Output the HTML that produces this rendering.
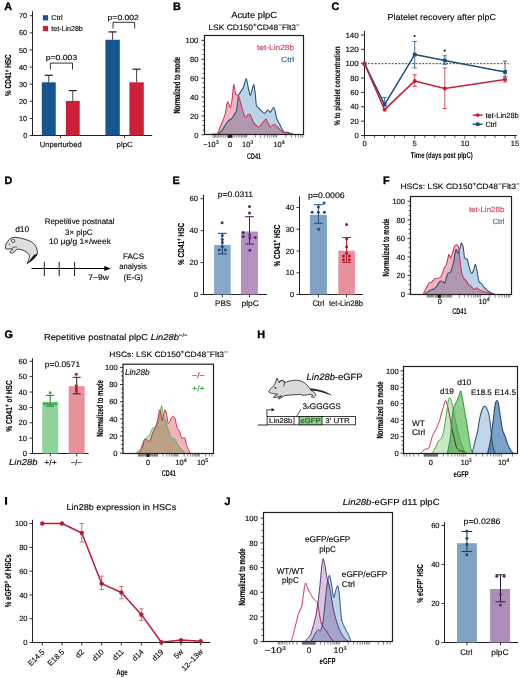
<!DOCTYPE html>
<html><head><meta charset="utf-8"><style>
html,body{margin:0;padding:0;background:#fff;}
svg{display:block;font-family:"Liberation Sans",sans-serif;text-rendering:geometricPrecision;}
</style></head><body>
<svg width="520" height="678" viewBox="0 0 520 678">
<rect width="520" height="678" fill="#fff"/>
<text x="4.20" y="9.80" font-size="10.8" fill="#000" font-weight="bold" stroke="#000" stroke-width="0.35">A</text>
<line x1="32.50" y1="11.20" x2="32.50" y2="135.95" stroke="#231f20" stroke-width="1.0" />
<line x1="32.00" y1="135.50" x2="152.20" y2="135.50" stroke="#231f20" stroke-width="1.0" />
<line x1="29.60" y1="135.50" x2="32.50" y2="135.50" stroke="#231f20" stroke-width="0.9" />
<text x="27.20" y="138.10" font-size="7.3" stroke="#231f20" stroke-width="0.15" text-anchor="end" >0</text>
<line x1="29.60" y1="118.39" x2="32.50" y2="118.39" stroke="#231f20" stroke-width="0.9" />
<text x="27.20" y="120.99" font-size="7.3" stroke="#231f20" stroke-width="0.15" text-anchor="end" >10</text>
<line x1="29.60" y1="101.28" x2="32.50" y2="101.28" stroke="#231f20" stroke-width="0.9" />
<text x="27.20" y="103.88" font-size="7.3" stroke="#231f20" stroke-width="0.15" text-anchor="end" >20</text>
<line x1="29.60" y1="84.17" x2="32.50" y2="84.17" stroke="#231f20" stroke-width="0.9" />
<text x="27.20" y="86.77" font-size="7.3" stroke="#231f20" stroke-width="0.15" text-anchor="end" >30</text>
<line x1="29.60" y1="67.06" x2="32.50" y2="67.06" stroke="#231f20" stroke-width="0.9" />
<text x="27.20" y="69.66" font-size="7.3" stroke="#231f20" stroke-width="0.15" text-anchor="end" >40</text>
<line x1="29.60" y1="49.95" x2="32.50" y2="49.95" stroke="#231f20" stroke-width="0.9" />
<text x="27.20" y="52.55" font-size="7.3" stroke="#231f20" stroke-width="0.15" text-anchor="end" >50</text>
<line x1="29.60" y1="32.84" x2="32.50" y2="32.84" stroke="#231f20" stroke-width="0.9" />
<text x="27.20" y="35.44" font-size="7.3" stroke="#231f20" stroke-width="0.15" text-anchor="end" >60</text>
<line x1="29.60" y1="15.73" x2="32.50" y2="15.73" stroke="#231f20" stroke-width="0.9" />
<text x="27.20" y="18.33" font-size="7.3" stroke="#231f20" stroke-width="0.15" text-anchor="end" >70</text>
<line x1="60.60" y1="135.50" x2="60.60" y2="138.20" stroke="#231f20" stroke-width="0.9" />
<line x1="124.50" y1="135.50" x2="124.50" y2="138.20" stroke="#231f20" stroke-width="0.9" />
<rect x="41.80" y="82.30" width="13.95" height="53.20" fill="#155590" />
<line x1="48.77" y1="82.30" x2="48.77" y2="75.30" stroke="#2b2b30" stroke-width="0.9" />
<line x1="44.77" y1="75.30" x2="52.77" y2="75.30" stroke="#2b2b30" stroke-width="1.3" />
<rect x="65.85" y="100.90" width="13.85" height="34.60" fill="#cc1f38" />
<line x1="72.78" y1="100.90" x2="72.78" y2="90.60" stroke="#2b2b30" stroke-width="0.9" />
<line x1="68.78" y1="90.60" x2="76.78" y2="90.60" stroke="#2b2b30" stroke-width="1.3" />
<rect x="105.40" y="39.80" width="14.40" height="95.70" fill="#155590" />
<line x1="112.60" y1="39.80" x2="112.60" y2="31.90" stroke="#2b2b30" stroke-width="0.9" />
<line x1="108.60" y1="31.90" x2="116.60" y2="31.90" stroke="#2b2b30" stroke-width="1.3" />
<rect x="129.40" y="82.30" width="14.40" height="53.20" fill="#cc1f38" />
<line x1="136.60" y1="82.30" x2="136.60" y2="69.20" stroke="#2b2b30" stroke-width="0.9" />
<line x1="132.60" y1="69.20" x2="140.60" y2="69.20" stroke="#2b2b30" stroke-width="1.3" />
<rect x="42.90" y="15.20" width="5.20" height="5.20" fill="#155590" />
<text x="51.30" y="20.20" font-size="7.2" stroke="#231f20" stroke-width="0.15" textLength="11.30" lengthAdjust="spacingAndGlyphs" >Ctrl</text>
<rect x="42.90" y="25.90" width="5.20" height="5.20" fill="#cc1f38" />
<text x="51.30" y="30.80" font-size="7.2" stroke="#231f20" stroke-width="0.15" textLength="31.50" lengthAdjust="spacingAndGlyphs" >tet-Lin28b</text>
<text x="45.80" y="59.80" font-size="7.4" stroke="#231f20" stroke-width="0.15" textLength="31.40" lengthAdjust="spacingAndGlyphs" >p=0.003</text>
<path d="M50.4,69.4 V63.1 H72.5 V69.4" fill="none" stroke="#231f20" stroke-width="0.9" />
<text x="107.60" y="19.60" font-size="7.4" stroke="#231f20" stroke-width="0.15" textLength="31.30" lengthAdjust="spacingAndGlyphs" >p=0.002</text>
<path d="M113,28.4 V22.3 H134.7 V28.4" fill="none" stroke="#231f20" stroke-width="0.9" />
<text x="39.80" y="146.70" font-size="7.6" stroke="#231f20" stroke-width="0.15" textLength="41.90" lengthAdjust="spacingAndGlyphs" >Unperturbed</text>
<text x="116.50" y="146.70" font-size="7.6" stroke="#231f20" stroke-width="0.15" textLength="16.20" lengthAdjust="spacingAndGlyphs" >plpC</text>
<text x="11.40" y="75.10" font-size="8.64" text-anchor="middle" textLength="41.60" lengthAdjust="spacingAndGlyphs" font-weight="bold" transform="rotate(-90 11.40 75.10)" stroke="#231f20" stroke-width="0.15">% CD41<tspan font-size="6.2" dy="-2.8">+</tspan><tspan dy="2.8"> HSC</tspan></text>
<text x="173.00" y="9.60" font-size="10.8" fill="#000" font-weight="bold" stroke="#000" stroke-width="0.35">B</text>
<text x="231.20" y="17.50" font-size="8.9" stroke="#231f20" stroke-width="0.15" textLength="45.80" lengthAdjust="spacingAndGlyphs" >Acute plpC</text>
<text x="208.40" y="30.40" font-size="7.8" stroke="#231f20" stroke-width="0.15" textLength="91.30" lengthAdjust="spacingAndGlyphs" >LSK CD150<tspan font-size="5.8" dy="-3.1">+</tspan><tspan dy="3.1">CD48</tspan><tspan font-size="5.8" dy="-3.1">−</tspan><tspan dy="3.1">Flt3</tspan><tspan font-size="5.8" dy="-3.1">−</tspan></text>
<path d="M218.00,134.50 C218.49,134.02 221.35,131.51 222.20,130.40 C223.05,129.29 224.58,126.12 225.30,125.00 C226.02,123.88 227.59,121.61 228.40,120.80 C229.21,119.99 231.49,118.87 232.20,118.10 C232.91,117.33 234.00,115.10 234.50,114.20 C235.00,113.30 236.14,111.74 236.50,110.40 C236.86,109.06 237.37,104.42 237.60,102.70 C237.83,100.98 238.12,97.03 238.50,95.70 C238.88,94.37 240.34,92.26 240.90,91.30 C241.46,90.34 242.67,88.97 243.30,87.50 C243.93,86.03 245.68,78.48 246.30,78.70 C246.92,78.92 248.11,87.48 248.60,89.40 C249.09,91.33 249.91,95.76 250.50,95.20 C251.09,94.64 253.14,84.72 253.70,84.60 C254.26,84.48 254.99,91.75 255.30,94.20 C255.62,96.65 256.04,104.05 256.40,105.60 C256.76,107.15 257.89,106.94 258.40,107.50 C258.91,108.06 260.13,109.72 260.80,110.40 C261.47,111.08 263.48,113.14 264.10,113.30 C264.72,113.46 265.65,112.20 266.10,111.80 C266.56,111.40 267.50,109.84 268.00,109.90 C268.50,109.96 269.75,112.60 270.40,112.30 C271.05,112.00 273.04,107.42 273.60,107.30 C274.16,107.18 274.85,110.04 275.20,111.30 C275.55,112.56 276.16,116.75 276.60,118.10 C277.04,119.45 278.44,121.78 279.00,122.90 C279.56,124.02 280.84,126.64 281.40,127.70 C281.96,128.76 283.06,131.46 283.80,132.00 C284.54,132.54 286.91,132.12 287.70,132.30 C288.49,132.48 289.92,133.27 290.60,133.50 C291.28,133.73 293.16,134.21 293.50,134.30 Z" fill="#b9d4e6" stroke="none" stroke-width="0.8" style="mix-blend-mode:multiply"/>
<path d="M210.70,134.50 C210.70,134.49 210.31,134.46 210.70,134.40 C211.08,134.34 213.19,134.09 214.00,134.00 C214.81,133.91 216.82,134.56 217.60,133.60 C218.38,132.64 220.07,127.34 220.70,125.80 C221.33,124.26 222.46,121.84 223.00,120.40 C223.54,118.97 224.86,115.30 225.30,113.50 C225.74,111.70 226.49,106.35 226.80,105.00 C227.12,103.65 227.59,101.64 228.00,101.90 C228.41,102.16 229.81,107.56 230.30,107.20 C230.79,106.84 231.80,101.44 232.20,98.80 C232.60,96.16 233.30,85.14 233.70,84.60 C234.10,84.06 235.22,93.02 235.60,94.20 C235.98,95.38 236.66,94.53 237.00,94.70 C237.34,94.88 238.04,94.64 238.50,95.70 C238.96,96.76 240.24,101.50 240.90,103.80 C241.56,106.10 243.64,113.83 244.20,115.40 C244.76,116.98 245.24,117.42 245.70,117.30 C246.16,117.18 247.54,114.62 248.10,114.40 C248.66,114.18 249.84,114.39 250.50,115.40 C251.16,116.42 252.84,121.76 253.80,123.10 C254.76,124.44 257.74,126.85 258.70,126.90 C259.66,126.95 261.14,124.42 262.00,123.50 C262.86,122.58 265.40,119.07 266.10,119.00 C266.80,118.93 267.50,122.00 268.00,122.90 C268.50,123.80 269.68,126.54 270.40,126.70 C271.12,126.86 273.52,124.41 274.20,124.30 C274.88,124.19 275.52,125.18 276.20,125.80 C276.88,126.42 279.22,128.88 280.00,129.60 C280.78,130.32 282.12,131.60 282.90,132.00 C283.68,132.40 285.70,132.73 286.70,133.00 C287.70,133.27 290.94,134.12 291.50,134.30 C292.06,134.48 291.50,134.48 291.50,134.50 Z" fill="#f0b6c2" stroke="none" stroke-width="0.8" style="mix-blend-mode:multiply"/>
<path d="M218.00,134.50 C218.49,134.02 221.35,131.51 222.20,130.40 C223.05,129.29 224.58,126.12 225.30,125.00 C226.02,123.88 227.59,121.61 228.40,120.80 C229.21,119.99 231.49,118.87 232.20,118.10 C232.91,117.33 234.00,115.10 234.50,114.20 C235.00,113.30 236.14,111.74 236.50,110.40 C236.86,109.06 237.37,104.42 237.60,102.70 C237.83,100.98 238.12,97.03 238.50,95.70 C238.88,94.37 240.34,92.26 240.90,91.30 C241.46,90.34 242.67,88.97 243.30,87.50 C243.93,86.03 245.68,78.48 246.30,78.70 C246.92,78.92 248.11,87.48 248.60,89.40 C249.09,91.33 249.91,95.76 250.50,95.20 C251.09,94.64 253.14,84.72 253.70,84.60 C254.26,84.48 254.99,91.75 255.30,94.20 C255.62,96.65 256.04,104.05 256.40,105.60 C256.76,107.15 257.89,106.94 258.40,107.50 C258.91,108.06 260.13,109.72 260.80,110.40 C261.47,111.08 263.48,113.14 264.10,113.30 C264.72,113.46 265.65,112.20 266.10,111.80 C266.56,111.40 267.50,109.84 268.00,109.90 C268.50,109.96 269.75,112.60 270.40,112.30 C271.05,112.00 273.04,107.42 273.60,107.30 C274.16,107.18 274.85,110.04 275.20,111.30 C275.55,112.56 276.16,116.75 276.60,118.10 C277.04,119.45 278.44,121.78 279.00,122.90 C279.56,124.02 280.84,126.64 281.40,127.70 C281.96,128.76 283.06,131.46 283.80,132.00 C284.54,132.54 286.91,132.12 287.70,132.30 C288.49,132.48 289.92,133.27 290.60,133.50 C291.28,133.73 293.16,134.21 293.50,134.30" fill="none" stroke="#2b4f76" stroke-width="1.05" stroke-linejoin="round"/>
<path d="M210.70,134.50 C210.70,134.49 210.31,134.46 210.70,134.40 C211.08,134.34 213.19,134.09 214.00,134.00 C214.81,133.91 216.82,134.56 217.60,133.60 C218.38,132.64 220.07,127.34 220.70,125.80 C221.33,124.26 222.46,121.84 223.00,120.40 C223.54,118.97 224.86,115.30 225.30,113.50 C225.74,111.70 226.49,106.35 226.80,105.00 C227.12,103.65 227.59,101.64 228.00,101.90 C228.41,102.16 229.81,107.56 230.30,107.20 C230.79,106.84 231.80,101.44 232.20,98.80 C232.60,96.16 233.30,85.14 233.70,84.60 C234.10,84.06 235.22,93.02 235.60,94.20 C235.98,95.38 236.66,94.53 237.00,94.70 C237.34,94.88 238.04,94.64 238.50,95.70 C238.96,96.76 240.24,101.50 240.90,103.80 C241.56,106.10 243.64,113.83 244.20,115.40 C244.76,116.98 245.24,117.42 245.70,117.30 C246.16,117.18 247.54,114.62 248.10,114.40 C248.66,114.18 249.84,114.39 250.50,115.40 C251.16,116.42 252.84,121.76 253.80,123.10 C254.76,124.44 257.74,126.85 258.70,126.90 C259.66,126.95 261.14,124.42 262.00,123.50 C262.86,122.58 265.40,119.07 266.10,119.00 C266.80,118.93 267.50,122.00 268.00,122.90 C268.50,123.80 269.68,126.54 270.40,126.70 C271.12,126.86 273.52,124.41 274.20,124.30 C274.88,124.19 275.52,125.18 276.20,125.80 C276.88,126.42 279.22,128.88 280.00,129.60 C280.78,130.32 282.12,131.60 282.90,132.00 C283.68,132.40 285.70,132.73 286.70,133.00 C287.70,133.27 290.94,134.12 291.50,134.30 C292.06,134.48 291.50,134.48 291.50,134.50" fill="none" stroke="#c83a5a" stroke-width="1.05" stroke-linejoin="round"/>
<rect x="204.50" y="35.50" width="99.00" height="99.00" fill="none" stroke="#231f20" stroke-width="1.2"/>
<path d="M202.60,130.08H204.50M202.60,125.36H204.50M202.60,120.64H204.50M202.60,111.20H204.50M202.60,106.48H204.50M202.60,101.76H204.50M202.60,92.32H204.50M202.60,87.60H204.50M202.60,82.88H204.50M202.60,73.44H204.50M202.60,68.72H204.50M202.60,64.00H204.50M202.60,54.56H204.50M202.60,49.84H204.50M202.60,45.12H204.50" fill="none" stroke="#231f20" stroke-width="0.8" />
<line x1="201.50" y1="134.80" x2="204.50" y2="134.80" stroke="#231f20" stroke-width="0.9" />
<text x="198.40" y="137.50" font-size="7.6" stroke="#231f20" stroke-width="0.15" text-anchor="end" >0</text>
<line x1="201.50" y1="115.92" x2="204.50" y2="115.92" stroke="#231f20" stroke-width="0.9" />
<text x="198.40" y="118.62" font-size="7.6" stroke="#231f20" stroke-width="0.15" text-anchor="end" >20</text>
<line x1="201.50" y1="97.04" x2="204.50" y2="97.04" stroke="#231f20" stroke-width="0.9" />
<text x="198.40" y="99.74" font-size="7.6" stroke="#231f20" stroke-width="0.15" text-anchor="end" >40</text>
<line x1="201.50" y1="78.16" x2="204.50" y2="78.16" stroke="#231f20" stroke-width="0.9" />
<text x="198.40" y="80.86" font-size="7.6" stroke="#231f20" stroke-width="0.15" text-anchor="end" >60</text>
<line x1="201.50" y1="59.28" x2="204.50" y2="59.28" stroke="#231f20" stroke-width="0.9" />
<text x="198.40" y="61.98" font-size="7.6" stroke="#231f20" stroke-width="0.15" text-anchor="end" >80</text>
<line x1="201.50" y1="40.40" x2="204.50" y2="40.40" stroke="#231f20" stroke-width="0.9" />
<text x="198.40" y="43.10" font-size="7.6" stroke="#231f20" stroke-width="0.15" text-anchor="end" textLength="13.00" lengthAdjust="spacingAndGlyphs" >100</text>
<path d="M230.22,135.00v2.6 M229.78,135.00v2.6 M230.43,135.00v2.6 M229.57,135.00v2.6 M230.65,135.00v2.6 M229.35,135.00v2.6 M230.86,135.00v2.6 M229.14,135.00v2.6 M231.07,135.00v2.6 M228.93,135.00v2.6 M231.29,135.00v2.6 M228.71,135.00v2.6 M231.50,135.00v2.6 M228.50,135.00v2.6 M231.72,135.00v2.6 M228.28,135.00v2.6 M231.93,135.00v2.6 M228.07,135.00v2.6 M232.14,135.00v2.6 M227.86,135.00v2.6 M234.23,135.00v2.6 M225.77,135.00v2.6 M236.23,135.00v2.6 M223.77,135.00v2.6 M238.11,135.00v2.6 M221.89,135.00v2.6 M239.85,135.00v2.6 M220.15,135.00v2.6 M241.47,135.00v2.6 M218.53,135.00v2.6 M242.96,135.00v2.6 M217.04,135.00v2.6 M244.34,135.00v2.6 M215.66,135.00v2.6 M245.62,135.00v2.6 M214.38,135.00v2.6 M246.80,135.00v2.6 M213.20,135.00v2.6 M255.29,135.00v2.6 M260.58,135.00v2.6 M264.39,135.00v2.6 M267.36,135.00v2.6 M269.80,135.00v2.6 M271.87,135.00v2.6 M273.66,135.00v2.6 M275.24,135.00v2.6 M276.65,135.00v2.6 M285.98,135.00v2.6 M291.43,135.00v2.6 M295.31,135.00v2.6 M298.31,135.00v2.6 M300.76,135.00v2.6 M302.84,135.00v2.6 M230.00,135.00v2.6" fill="none" stroke="#231f20" stroke-width="0.55" />
<text x="256.90" y="49.50" font-size="7.6" stroke="#d0445f" stroke-width="0.15" fill="#d0445f" textLength="37.30" lengthAdjust="spacingAndGlyphs" >tet-Lin28b</text>
<text x="281.00" y="61.50" font-size="7.6" stroke="#3a6896" stroke-width="0.15" fill="#3a6896" textLength="13.20" lengthAdjust="spacingAndGlyphs" >Ctrl</text>
<text x="203.20" y="146.90" font-size="7.4" stroke="#231f20" stroke-width="0.15" >−10<tspan font-size="5.4" dy="-3">3</tspan></text>
<text x="230.00" y="146.90" font-size="7.4" stroke="#231f20" stroke-width="0.15" text-anchor="middle" >0</text>
<text x="242.10" y="146.90" font-size="7.4" stroke="#231f20" stroke-width="0.15" >10<tspan font-size="5.4" dy="-3">3</tspan></text>
<text x="273.40" y="146.90" font-size="7.4" stroke="#231f20" stroke-width="0.15" >10<tspan font-size="5.4" dy="-3">4</tspan></text>
<text x="254.00" y="159.10" font-size="8.4" text-anchor="middle" textLength="13.80" lengthAdjust="spacingAndGlyphs" font-weight="bold" >CD41</text>
<text x="180.50" y="85.20" font-size="9.024" text-anchor="middle" textLength="56.60" lengthAdjust="spacingAndGlyphs" font-weight="bold" transform="rotate(-90 180.50 85.20)" stroke="#231f20" stroke-width="0.15">Normalized to mode</text>
<text x="331.50" y="10.00" font-size="10.8" fill="#000" font-weight="bold" stroke="#000" stroke-width="0.35">C</text>
<text x="387.60" y="19.90" font-size="8.6" stroke="#231f20" stroke-width="0.15" textLength="108.40" lengthAdjust="spacingAndGlyphs" >Platelet recovery after plpC</text>
<line x1="364.50" y1="30.80" x2="364.50" y2="135.80" stroke="#231f20" stroke-width="1.0" />
<line x1="364.00" y1="135.50" x2="516.80" y2="135.50" stroke="#231f20" stroke-width="1.0" />
<line x1="361.00" y1="135.50" x2="364.50" y2="135.50" stroke="#231f20" stroke-width="0.9" />
<text x="358.80" y="138.20" font-size="7.6" stroke="#231f20" stroke-width="0.15" text-anchor="end" >0</text>
<line x1="361.00" y1="121.13" x2="364.50" y2="121.13" stroke="#231f20" stroke-width="0.9" />
<text x="358.80" y="123.83" font-size="7.6" stroke="#231f20" stroke-width="0.15" text-anchor="end" >20</text>
<line x1="361.00" y1="106.77" x2="364.50" y2="106.77" stroke="#231f20" stroke-width="0.9" />
<text x="358.80" y="109.47" font-size="7.6" stroke="#231f20" stroke-width="0.15" text-anchor="end" >40</text>
<line x1="361.00" y1="92.40" x2="364.50" y2="92.40" stroke="#231f20" stroke-width="0.9" />
<text x="358.80" y="95.10" font-size="7.6" stroke="#231f20" stroke-width="0.15" text-anchor="end" >60</text>
<line x1="361.00" y1="78.04" x2="364.50" y2="78.04" stroke="#231f20" stroke-width="0.9" />
<text x="358.80" y="80.74" font-size="7.6" stroke="#231f20" stroke-width="0.15" text-anchor="end" >80</text>
<line x1="361.00" y1="63.67" x2="364.50" y2="63.67" stroke="#231f20" stroke-width="0.9" />
<text x="358.80" y="66.37" font-size="7.6" stroke="#231f20" stroke-width="0.15" text-anchor="end" textLength="13.40" lengthAdjust="spacingAndGlyphs" >100</text>
<line x1="361.00" y1="49.30" x2="364.50" y2="49.30" stroke="#231f20" stroke-width="0.9" />
<text x="358.80" y="52.00" font-size="7.6" stroke="#231f20" stroke-width="0.15" text-anchor="end" textLength="13.40" lengthAdjust="spacingAndGlyphs" >120</text>
<line x1="361.00" y1="34.94" x2="364.50" y2="34.94" stroke="#231f20" stroke-width="0.9" />
<text x="358.80" y="37.64" font-size="7.6" stroke="#231f20" stroke-width="0.15" text-anchor="end" textLength="13.40" lengthAdjust="spacingAndGlyphs" >140</text>
<line x1="364.50" y1="135.50" x2="364.50" y2="138.70" stroke="#231f20" stroke-width="0.8" />
<line x1="374.54" y1="135.50" x2="374.54" y2="137.70" stroke="#231f20" stroke-width="0.8" />
<line x1="384.58" y1="135.50" x2="384.58" y2="137.70" stroke="#231f20" stroke-width="0.8" />
<line x1="394.62" y1="135.50" x2="394.62" y2="137.70" stroke="#231f20" stroke-width="0.8" />
<line x1="404.66" y1="135.50" x2="404.66" y2="137.70" stroke="#231f20" stroke-width="0.8" />
<line x1="414.70" y1="135.50" x2="414.70" y2="138.70" stroke="#231f20" stroke-width="0.8" />
<line x1="424.74" y1="135.50" x2="424.74" y2="137.70" stroke="#231f20" stroke-width="0.8" />
<line x1="434.78" y1="135.50" x2="434.78" y2="137.70" stroke="#231f20" stroke-width="0.8" />
<line x1="444.82" y1="135.50" x2="444.82" y2="137.70" stroke="#231f20" stroke-width="0.8" />
<line x1="454.86" y1="135.50" x2="454.86" y2="137.70" stroke="#231f20" stroke-width="0.8" />
<line x1="464.90" y1="135.50" x2="464.90" y2="138.70" stroke="#231f20" stroke-width="0.8" />
<line x1="474.94" y1="135.50" x2="474.94" y2="137.70" stroke="#231f20" stroke-width="0.8" />
<line x1="484.98" y1="135.50" x2="484.98" y2="137.70" stroke="#231f20" stroke-width="0.8" />
<line x1="495.02" y1="135.50" x2="495.02" y2="137.70" stroke="#231f20" stroke-width="0.8" />
<line x1="505.06" y1="135.50" x2="505.06" y2="137.70" stroke="#231f20" stroke-width="0.8" />
<line x1="515.10" y1="135.50" x2="515.10" y2="138.70" stroke="#231f20" stroke-width="0.8" />
<text x="364.50" y="145.70" font-size="7.6" stroke="#231f20" stroke-width="0.15" text-anchor="middle" >0</text>
<text x="414.70" y="145.70" font-size="7.6" stroke="#231f20" stroke-width="0.15" text-anchor="middle" >5</text>
<text x="464.90" y="145.70" font-size="7.6" stroke="#231f20" stroke-width="0.15" text-anchor="middle" >10</text>
<text x="515.10" y="145.70" font-size="7.6" stroke="#231f20" stroke-width="0.15" text-anchor="middle" >15</text>
<text x="410.70" y="157.90" font-size="8.4" textLength="62.00" lengthAdjust="spacingAndGlyphs" font-weight="bold" >Time (days post plpC)</text>
<text x="340.20" y="86.00" font-size="8.256" text-anchor="middle" textLength="79.00" lengthAdjust="spacingAndGlyphs" font-weight="bold" transform="rotate(-90 340.20 86.00)" stroke="#231f20" stroke-width="0.15">% to platelet concentration</text>
<line x1="364.50" y1="63.67" x2="508.50" y2="63.67" stroke="#231f20" stroke-width="0.85" stroke-dasharray="1.9 1.5"/>
<polyline points="364.50,63.67 384.58,104.61 414.70,54.55 444.82,60.44 505.06,71.93" fill="none" stroke="#1d4f7c" stroke-width="1.5" stroke-linejoin="round"/>
<rect x="362.60" y="61.77" width="3.80" height="3.80" fill="#1d4f7c" />
<line x1="384.58" y1="97.43" x2="384.58" y2="104.61" stroke="#1d4f7c" stroke-width="0.8" />
<line x1="382.38" y1="97.43" x2="386.78" y2="97.43" stroke="#1d4f7c" stroke-width="0.8" />
<rect x="382.68" y="102.71" width="3.80" height="3.80" fill="#1d4f7c" />
<line x1="414.70" y1="41.40" x2="414.70" y2="54.55" stroke="#1d4f7c" stroke-width="0.8" />
<line x1="412.50" y1="41.40" x2="416.90" y2="41.40" stroke="#1d4f7c" stroke-width="0.8" />
<line x1="414.70" y1="67.98" x2="414.70" y2="54.55" stroke="#1d4f7c" stroke-width="0.8" />
<line x1="412.50" y1="67.98" x2="416.90" y2="67.98" stroke="#1d4f7c" stroke-width="0.8" />
<rect x="412.80" y="52.65" width="3.80" height="3.80" fill="#1d4f7c" />
<line x1="444.82" y1="55.77" x2="444.82" y2="60.44" stroke="#1d4f7c" stroke-width="0.8" />
<line x1="442.62" y1="55.77" x2="447.02" y2="55.77" stroke="#1d4f7c" stroke-width="0.8" />
<line x1="444.82" y1="64.39" x2="444.82" y2="60.44" stroke="#1d4f7c" stroke-width="0.8" />
<line x1="442.62" y1="64.39" x2="447.02" y2="64.39" stroke="#1d4f7c" stroke-width="0.8" />
<rect x="442.92" y="58.54" width="3.80" height="3.80" fill="#1d4f7c" />
<line x1="505.06" y1="61.16" x2="505.06" y2="71.93" stroke="#1d4f7c" stroke-width="0.8" />
<line x1="502.86" y1="61.16" x2="507.26" y2="61.16" stroke="#1d4f7c" stroke-width="0.8" />
<line x1="505.06" y1="76.60" x2="505.06" y2="71.93" stroke="#1d4f7c" stroke-width="0.8" />
<line x1="502.86" y1="76.60" x2="507.26" y2="76.60" stroke="#1d4f7c" stroke-width="0.8" />
<rect x="503.16" y="70.03" width="3.80" height="3.80" fill="#1d4f7c" />
<polyline points="364.50,63.67 384.58,109.64 414.70,80.91 444.82,88.45 505.06,79.47" fill="none" stroke="#c8203a" stroke-width="1.5" stroke-linejoin="round"/>
<circle cx="364.50" cy="63.67" r="2.0" fill="#c8203a" />
<circle cx="384.58" cy="109.64" r="2.0" fill="#c8203a" />
<line x1="414.70" y1="74.80" x2="414.70" y2="80.91" stroke="#c8203a" stroke-width="0.8" />
<line x1="412.50" y1="74.80" x2="416.90" y2="74.80" stroke="#c8203a" stroke-width="0.8" />
<line x1="414.70" y1="86.30" x2="414.70" y2="80.91" stroke="#c8203a" stroke-width="0.8" />
<line x1="412.50" y1="86.30" x2="416.90" y2="86.30" stroke="#c8203a" stroke-width="0.8" />
<circle cx="414.70" cy="80.91" r="2.0" fill="#c8203a" />
<line x1="444.82" y1="67.98" x2="444.82" y2="88.45" stroke="#c8203a" stroke-width="0.8" />
<line x1="442.62" y1="67.98" x2="447.02" y2="67.98" stroke="#c8203a" stroke-width="0.8" />
<line x1="444.82" y1="108.49" x2="444.82" y2="88.45" stroke="#c8203a" stroke-width="0.8" />
<line x1="442.62" y1="108.49" x2="447.02" y2="108.49" stroke="#c8203a" stroke-width="0.8" />
<circle cx="444.82" cy="88.45" r="2.0" fill="#c8203a" />
<line x1="505.06" y1="78.04" x2="505.06" y2="79.47" stroke="#c8203a" stroke-width="0.8" />
<line x1="502.86" y1="78.04" x2="507.26" y2="78.04" stroke="#c8203a" stroke-width="0.8" />
<line x1="505.06" y1="81.99" x2="505.06" y2="79.47" stroke="#c8203a" stroke-width="0.8" />
<line x1="502.86" y1="81.99" x2="507.26" y2="81.99" stroke="#c8203a" stroke-width="0.8" />
<circle cx="505.06" cy="79.47" r="2.0" fill="#c8203a" />
<circle cx="414.60" cy="36.00" r="1.05" fill="#111" />
<circle cx="444.70" cy="50.60" r="1.05" fill="#111" />
<line x1="472.70" y1="115.10" x2="482.60" y2="115.10" stroke="#c8203a" stroke-width="1.4" />
<circle cx="477.70" cy="115.10" r="1.9" fill="#c8203a" />
<text x="485.40" y="117.60" font-size="7.6" stroke="#231f20" stroke-width="0.15" textLength="33.40" lengthAdjust="spacingAndGlyphs" >tet-Lin28b</text>
<line x1="472.70" y1="124.20" x2="482.60" y2="124.20" stroke="#1d4f7c" stroke-width="1.4" />
<rect x="475.90" y="122.40" width="3.60" height="3.60" fill="#1d4f7c" />
<text x="485.40" y="126.70" font-size="7.6" stroke="#231f20" stroke-width="0.15" textLength="11.20" lengthAdjust="spacingAndGlyphs" >Ctrl</text>
<text x="4.60" y="184.30" font-size="10.8" fill="#000" font-weight="bold" stroke="#000" stroke-width="0.35">D</text>
<text x="15.20" y="231.50" font-size="8.2" stroke="#231f20" stroke-width="0.15" textLength="14.00" lengthAdjust="spacingAndGlyphs" >d10</text>
<path d="M5.5,248.2 C5.2,246 6,243.5 7.6,241.5 C9.5,238.8 12,237.2 15,237.3 C19,237.4 24,238.8 28.9,240.6 C32.5,242 35.2,244.6 36.6,248 C37.6,250.5 37.6,253 37,255 L27.4,263.6 L28.6,259.8 C29.4,258.2 29.8,256.8 29.4,255.2 C28.4,253.2 26,251.4 22.4,250 C20.5,249.3 18.5,249 17,249.2 L13.2,252.6 C12.2,253.3 10.8,253.3 10.2,252.5 C9.8,251.8 10.4,250.9 11.4,250.2 L13,249 C11,248.6 8.5,248.9 6.8,249.2 C6,249.3 5.5,248.9 5.5,248.2 Z" fill="#dedede" stroke="#111" stroke-width="0.8" stroke-linejoin="round"/>
<path d="M37.2,253.6 C36.2,257.4 32.6,261 27.4,263.6 C29.8,260.8 31.8,258 33.4,255.6 Z" fill="#111" stroke="none" stroke-width="0.8" />
<circle cx="13.2" cy="240.9" r="1.7" fill="none" stroke="#111" stroke-width="0.6"/>
<circle cx="9.30" cy="244.30" r="0.55" fill="#111" />
<path d="M12.4,247.6 C13.8,247 15.4,246.8 16.8,247.4" fill="none" stroke="#111" stroke-width="0.7" />
<text x="44.70" y="224.40" font-size="8" stroke="#231f20" stroke-width="0.15" textLength="69.80" lengthAdjust="spacingAndGlyphs" >Repetitive postnatal</text>
<text x="65.00" y="234.60" font-size="8" stroke="#231f20" stroke-width="0.15" textLength="27.50" lengthAdjust="spacingAndGlyphs" >3× plpC</text>
<text x="48.90" y="243.90" font-size="8" stroke="#231f20" stroke-width="0.15" textLength="62.00" lengthAdjust="spacingAndGlyphs" >10 μg/g 1×/week</text>
<line x1="31.50" y1="268.50" x2="106.00" y2="268.50" stroke="#000" stroke-width="1.0" />
<path d="M104.3,265.9 L110.9,268.5 L104.3,271.1 Z" fill="#000" stroke="none" stroke-width="0.8" />
<line x1="44.30" y1="261.80" x2="44.30" y2="276.00" stroke="#000" stroke-width="0.9" />
<line x1="59.20" y1="261.80" x2="59.20" y2="276.00" stroke="#000" stroke-width="0.9" />
<line x1="74.60" y1="261.80" x2="74.60" y2="276.00" stroke="#000" stroke-width="0.9" />
<text x="88.20" y="280.40" font-size="8" stroke="#231f20" stroke-width="0.15" textLength="20.60" lengthAdjust="spacingAndGlyphs" >7−9w</text>
<text x="122.90" y="258.60" font-size="8" stroke="#231f20" stroke-width="0.15" textLength="21.20" lengthAdjust="spacingAndGlyphs" >FACS</text>
<text x="119.30" y="268.70" font-size="8" stroke="#231f20" stroke-width="0.15" textLength="27.50" lengthAdjust="spacingAndGlyphs" >analysis</text>
<text x="123.60" y="280.20" font-size="8" stroke="#231f20" stroke-width="0.15" textLength="19.40" lengthAdjust="spacingAndGlyphs" >(E-G)</text>
<text x="172.60" y="183.80" font-size="10.8" fill="#000" font-weight="bold" stroke="#000" stroke-width="0.35">E</text>
<line x1="203.50" y1="194.60" x2="203.50" y2="294.95" stroke="#231f20" stroke-width="1.0" />
<line x1="203.00" y1="294.50" x2="267.00" y2="294.50" stroke="#231f20" stroke-width="1.0" />
<line x1="200.50" y1="294.50" x2="203.50" y2="294.50" stroke="#231f20" stroke-width="0.9" />
<text x="197.90" y="297.20" font-size="7.6" stroke="#231f20" stroke-width="0.15" text-anchor="end" >0</text>
<line x1="200.50" y1="262.57" x2="203.50" y2="262.57" stroke="#231f20" stroke-width="0.9" />
<text x="197.90" y="265.27" font-size="7.6" stroke="#231f20" stroke-width="0.15" text-anchor="end" >20</text>
<line x1="200.50" y1="230.63" x2="203.50" y2="230.63" stroke="#231f20" stroke-width="0.9" />
<text x="197.90" y="233.33" font-size="7.6" stroke="#231f20" stroke-width="0.15" text-anchor="end" >40</text>
<line x1="200.50" y1="198.70" x2="203.50" y2="198.70" stroke="#231f20" stroke-width="0.9" />
<text x="197.90" y="201.40" font-size="7.6" stroke="#231f20" stroke-width="0.15" text-anchor="end" >60</text>
<rect x="214.10" y="244.90" width="16.60" height="49.60" fill="#86a8c8" />
<rect x="241.00" y="231.50" width="16.90" height="63.00" fill="#b690c0" />
<line x1="222.30" y1="233.30" x2="222.30" y2="253.90" stroke="#1a3f66" stroke-width="1.0" />
<line x1="217.90" y1="233.30" x2="226.70" y2="233.30" stroke="#1a3f66" stroke-width="1.0" />
<line x1="217.90" y1="253.90" x2="226.70" y2="253.90" stroke="#1a3f66" stroke-width="1.0" />
<line x1="249.50" y1="216.70" x2="249.50" y2="244.10" stroke="#3f1f4f" stroke-width="1.0" />
<line x1="245.10" y1="216.70" x2="253.90" y2="216.70" stroke="#3f1f4f" stroke-width="1.0" />
<line x1="245.10" y1="244.10" x2="253.90" y2="244.10" stroke="#3f1f4f" stroke-width="1.0" />
<circle cx="222.10" cy="222.70" r="1.5" fill="#1e4d7a" />
<circle cx="222.30" cy="235.50" r="1.5" fill="#1e4d7a" />
<circle cx="222.30" cy="239.50" r="1.5" fill="#1e4d7a" />
<circle cx="222.30" cy="242.50" r="1.5" fill="#1e4d7a" />
<circle cx="219.10" cy="249.90" r="1.5" fill="#1e4d7a" />
<circle cx="225.30" cy="249.90" r="1.5" fill="#1e4d7a" />
<circle cx="222.30" cy="246.50" r="1.5" fill="#1e4d7a" />
<circle cx="249.50" cy="206.50" r="1.5" fill="#5a2a6a" />
<circle cx="249.50" cy="212.90" r="1.5" fill="#5a2a6a" />
<circle cx="243.30" cy="232.40" r="1.5" fill="#5a2a6a" />
<circle cx="243.30" cy="236.40" r="1.5" fill="#5a2a6a" />
<circle cx="249.80" cy="235.10" r="1.5" fill="#5a2a6a" />
<circle cx="249.80" cy="238.00" r="1.5" fill="#5a2a6a" />
<circle cx="255.20" cy="237.40" r="1.5" fill="#5a2a6a" />
<circle cx="249.80" cy="250.30" r="1.5" fill="#5a2a6a" />
<line x1="222.30" y1="294.50" x2="222.30" y2="297.40" stroke="#231f20" stroke-width="0.9" />
<line x1="249.50" y1="294.50" x2="249.50" y2="297.40" stroke="#231f20" stroke-width="0.9" />
<text x="215.10" y="306.00" font-size="8" stroke="#231f20" stroke-width="0.15" textLength="15.90" lengthAdjust="spacingAndGlyphs" >PBS</text>
<text x="241.50" y="306.00" font-size="8" stroke="#231f20" stroke-width="0.15" textLength="17.30" lengthAdjust="spacingAndGlyphs" >plpC</text>
<text x="217.70" y="196.90" font-size="8" stroke="#231f20" stroke-width="0.15" textLength="35.40" lengthAdjust="spacingAndGlyphs" >p=0.0311</text>
<text x="183.60" y="243.90" font-size="8.64" text-anchor="middle" textLength="42.00" lengthAdjust="spacingAndGlyphs" font-weight="bold" transform="rotate(-90 183.60 243.90)" stroke="#231f20" stroke-width="0.15">% CD41<tspan font-size="6.2" dy="-2.8">+</tspan><tspan dy="2.8"> HSC</tspan></text>
<line x1="299.50" y1="196.50" x2="299.50" y2="294.95" stroke="#231f20" stroke-width="1.0" />
<line x1="299.00" y1="294.50" x2="362.80" y2="294.50" stroke="#231f20" stroke-width="1.0" />
<line x1="296.50" y1="294.50" x2="299.50" y2="294.50" stroke="#231f20" stroke-width="0.9" />
<text x="294.20" y="297.20" font-size="7.6" stroke="#231f20" stroke-width="0.15" text-anchor="end" >0</text>
<line x1="296.50" y1="272.75" x2="299.50" y2="272.75" stroke="#231f20" stroke-width="0.9" />
<text x="294.20" y="275.45" font-size="7.6" stroke="#231f20" stroke-width="0.15" text-anchor="end" >10</text>
<line x1="296.50" y1="251.00" x2="299.50" y2="251.00" stroke="#231f20" stroke-width="0.9" />
<text x="294.20" y="253.70" font-size="7.6" stroke="#231f20" stroke-width="0.15" text-anchor="end" >20</text>
<line x1="296.50" y1="229.25" x2="299.50" y2="229.25" stroke="#231f20" stroke-width="0.9" />
<text x="294.20" y="231.95" font-size="7.6" stroke="#231f20" stroke-width="0.15" text-anchor="end" >30</text>
<line x1="296.50" y1="207.50" x2="299.50" y2="207.50" stroke="#231f20" stroke-width="0.9" />
<text x="294.20" y="210.20" font-size="7.6" stroke="#231f20" stroke-width="0.15" text-anchor="end" >40</text>
<rect x="309.90" y="214.90" width="17.00" height="79.60" fill="#7fa2c4" />
<rect x="338.30" y="250.80" width="16.60" height="43.70" fill="#e8909c" />
<line x1="318.40" y1="204.70" x2="318.40" y2="223.30" stroke="#1e4d7a" stroke-width="1.0" />
<line x1="314.00" y1="204.70" x2="322.80" y2="204.70" stroke="#1e4d7a" stroke-width="1.0" />
<line x1="314.00" y1="223.30" x2="322.80" y2="223.30" stroke="#1e4d7a" stroke-width="1.0" />
<line x1="346.60" y1="237.50" x2="346.60" y2="262.40" stroke="#b0182d" stroke-width="1.0" />
<line x1="342.20" y1="237.50" x2="351.00" y2="237.50" stroke="#b0182d" stroke-width="1.0" />
<line x1="342.20" y1="262.40" x2="351.00" y2="262.40" stroke="#b0182d" stroke-width="1.0" />
<circle cx="324.10" cy="203.10" r="1.5" fill="#1e4d7a" />
<circle cx="312.10" cy="212.30" r="1.5" fill="#1e4d7a" />
<circle cx="318.40" cy="212.30" r="1.5" fill="#1e4d7a" />
<circle cx="324.40" cy="212.30" r="1.5" fill="#1e4d7a" />
<circle cx="318.60" cy="229.20" r="1.5" fill="#1e4d7a" />
<circle cx="318.40" cy="207.00" r="1.5" fill="#1e4d7a" />
<circle cx="346.60" cy="224.60" r="1.5" fill="#b0182d" />
<circle cx="346.60" cy="239.00" r="1.5" fill="#b0182d" />
<circle cx="346.60" cy="246.80" r="1.5" fill="#b0182d" />
<circle cx="343.50" cy="256.00" r="1.5" fill="#b0182d" />
<circle cx="349.40" cy="256.00" r="1.5" fill="#b0182d" />
<circle cx="343.50" cy="259.70" r="1.5" fill="#b0182d" />
<circle cx="349.40" cy="259.70" r="1.5" fill="#b0182d" />
<circle cx="346.60" cy="253.20" r="1.5" fill="#b0182d" />
<line x1="318.40" y1="294.50" x2="318.40" y2="297.40" stroke="#231f20" stroke-width="0.9" />
<line x1="346.60" y1="294.50" x2="346.60" y2="297.40" stroke="#231f20" stroke-width="0.9" />
<text x="312.40" y="305.50" font-size="8" stroke="#231f20" stroke-width="0.15" textLength="11.80" lengthAdjust="spacingAndGlyphs" >Ctrl</text>
<text x="328.90" y="305.50" font-size="8" stroke="#231f20" stroke-width="0.15" textLength="34.10" lengthAdjust="spacingAndGlyphs" >tet-Lin28b</text>
<text x="307.90" y="197.50" font-size="8" stroke="#231f20" stroke-width="0.15" textLength="36.80" lengthAdjust="spacingAndGlyphs" >p=0.0006</text>
<text x="279.90" y="245.50" font-size="8.64" text-anchor="middle" textLength="42.00" lengthAdjust="spacingAndGlyphs" font-weight="bold" transform="rotate(-90 279.90 245.50)" stroke="#231f20" stroke-width="0.15">% CD41<tspan font-size="6.2" dy="-2.8">+</tspan><tspan dy="2.8"> HSC</tspan></text>
<text x="383.00" y="184.00" font-size="10.8" fill="#000" font-weight="bold" stroke="#000" stroke-width="0.35">F</text>
<text x="400.40" y="189.30" font-size="7.8" stroke="#231f20" stroke-width="0.15" textLength="119.20" lengthAdjust="spacingAndGlyphs" >HSCs: LSK CD150<tspan font-size="5.8" dy="-3.1">+</tspan><tspan dy="3.1">CD48</tspan><tspan font-size="5.8" dy="-3.1">−</tspan><tspan dy="3.1">Flt3</tspan><tspan font-size="5.8" dy="-3.1">−</tspan></text>
<path d="M425.20,294.50 C425.20,294.42 424.59,294.30 425.20,293.80 C425.81,293.30 429.33,290.80 430.40,290.20 C431.47,289.60 433.59,289.28 434.40,288.70 C435.20,288.12 436.62,286.07 437.30,285.20 C437.98,284.32 439.52,281.61 440.20,281.20 C440.88,280.79 442.56,281.50 443.10,281.70 C443.64,281.90 444.26,283.83 444.80,282.90 C445.34,281.97 447.02,274.98 447.70,273.70 C448.38,272.42 449.92,273.18 450.60,271.90 C451.28,270.62 452.96,264.99 453.50,262.70 C454.04,260.41 454.87,253.85 455.20,252.30 C455.53,250.75 455.96,249.26 456.30,249.40 C456.64,249.54 457.69,253.57 458.10,253.50 C458.51,253.43 459.40,250.01 459.80,248.80 C460.20,247.59 461.09,243.23 461.50,243.10 C461.91,242.97 462.96,246.09 463.30,247.70 C463.64,249.31 464.06,255.56 464.40,256.90 C464.74,258.24 465.85,258.90 466.20,259.20 C466.55,259.50 467.04,258.51 467.40,259.50 C467.76,260.49 468.80,266.07 469.30,267.70 C469.80,269.33 471.19,273.28 471.70,273.50 C472.21,273.72 473.27,270.67 473.70,269.60 C474.13,268.53 475.01,264.18 475.40,264.30 C475.78,264.42 476.59,268.63 477.00,270.60 C477.41,272.57 478.34,279.64 478.90,281.20 C479.46,282.76 481.18,283.28 481.80,284.00 C482.42,284.72 483.58,286.66 484.20,287.40 C484.82,288.13 486.31,289.68 487.10,290.30 C487.89,290.92 490.22,292.29 491.00,292.70 C491.78,293.11 493.47,293.59 493.80,293.80 C494.13,294.01 493.80,294.42 493.80,294.50 Z" fill="#b9d4e6" stroke="none" stroke-width="0.8" style="mix-blend-mode:multiply"/>
<path d="M423.50,294.50 C423.50,294.42 423.17,294.55 423.50,293.80 C423.83,293.05 425.63,289.37 426.30,288.10 C426.97,286.83 428.59,283.58 429.20,282.90 C429.81,282.22 430.82,282.80 431.50,282.30 C432.18,281.80 433.99,279.14 435.00,278.60 C436.01,278.06 439.32,278.34 440.20,277.70 C441.07,277.06 442.03,274.24 442.50,273.10 C442.97,271.96 443.73,268.91 444.20,267.90 C444.67,266.88 445.96,265.95 446.50,264.40 C447.04,262.85 448.32,255.33 448.80,254.60 C449.28,253.87 450.19,258.23 450.60,258.10 C451.01,257.97 451.83,254.91 452.30,253.50 C452.77,252.09 454.09,247.01 454.60,246.00 C455.11,244.99 456.22,244.60 456.70,244.80 C457.18,245.00 458.27,245.48 458.70,247.70 C459.13,249.92 460.00,260.71 460.40,263.80 C460.80,266.89 461.63,272.38 462.10,274.20 C462.57,276.02 463.90,278.65 464.40,279.40 C464.90,280.15 465.93,280.00 466.40,280.60 C466.87,281.20 467.89,283.87 468.40,284.50 C468.91,285.13 470.13,285.42 470.80,286.00 C471.47,286.58 473.38,289.28 474.10,289.50 C474.82,289.72 476.32,287.81 477.00,287.90 C477.68,287.99 479.06,289.86 479.90,290.30 C480.74,290.74 483.14,291.36 484.20,291.70 C485.26,292.04 487.99,292.95 489.00,293.20 C490.01,293.44 492.44,293.65 492.90,293.80 C493.35,293.95 492.90,294.42 492.90,294.50 Z" fill="#f0b6c2" stroke="none" stroke-width="0.8" style="mix-blend-mode:multiply"/>
<path d="M425.20,294.50 C425.20,294.42 424.59,294.30 425.20,293.80 C425.81,293.30 429.33,290.80 430.40,290.20 C431.47,289.60 433.59,289.28 434.40,288.70 C435.20,288.12 436.62,286.07 437.30,285.20 C437.98,284.32 439.52,281.61 440.20,281.20 C440.88,280.79 442.56,281.50 443.10,281.70 C443.64,281.90 444.26,283.83 444.80,282.90 C445.34,281.97 447.02,274.98 447.70,273.70 C448.38,272.42 449.92,273.18 450.60,271.90 C451.28,270.62 452.96,264.99 453.50,262.70 C454.04,260.41 454.87,253.85 455.20,252.30 C455.53,250.75 455.96,249.26 456.30,249.40 C456.64,249.54 457.69,253.57 458.10,253.50 C458.51,253.43 459.40,250.01 459.80,248.80 C460.20,247.59 461.09,243.23 461.50,243.10 C461.91,242.97 462.96,246.09 463.30,247.70 C463.64,249.31 464.06,255.56 464.40,256.90 C464.74,258.24 465.85,258.90 466.20,259.20 C466.55,259.50 467.04,258.51 467.40,259.50 C467.76,260.49 468.80,266.07 469.30,267.70 C469.80,269.33 471.19,273.28 471.70,273.50 C472.21,273.72 473.27,270.67 473.70,269.60 C474.13,268.53 475.01,264.18 475.40,264.30 C475.78,264.42 476.59,268.63 477.00,270.60 C477.41,272.57 478.34,279.64 478.90,281.20 C479.46,282.76 481.18,283.28 481.80,284.00 C482.42,284.72 483.58,286.66 484.20,287.40 C484.82,288.13 486.31,289.68 487.10,290.30 C487.89,290.92 490.22,292.29 491.00,292.70 C491.78,293.11 493.47,293.59 493.80,293.80 C494.13,294.01 493.80,294.42 493.80,294.50" fill="none" stroke="#2b4f76" stroke-width="1.05" stroke-linejoin="round"/>
<path d="M423.50,294.50 C423.50,294.42 423.17,294.55 423.50,293.80 C423.83,293.05 425.63,289.37 426.30,288.10 C426.97,286.83 428.59,283.58 429.20,282.90 C429.81,282.22 430.82,282.80 431.50,282.30 C432.18,281.80 433.99,279.14 435.00,278.60 C436.01,278.06 439.32,278.34 440.20,277.70 C441.07,277.06 442.03,274.24 442.50,273.10 C442.97,271.96 443.73,268.91 444.20,267.90 C444.67,266.88 445.96,265.95 446.50,264.40 C447.04,262.85 448.32,255.33 448.80,254.60 C449.28,253.87 450.19,258.23 450.60,258.10 C451.01,257.97 451.83,254.91 452.30,253.50 C452.77,252.09 454.09,247.01 454.60,246.00 C455.11,244.99 456.22,244.60 456.70,244.80 C457.18,245.00 458.27,245.48 458.70,247.70 C459.13,249.92 460.00,260.71 460.40,263.80 C460.80,266.89 461.63,272.38 462.10,274.20 C462.57,276.02 463.90,278.65 464.40,279.40 C464.90,280.15 465.93,280.00 466.40,280.60 C466.87,281.20 467.89,283.87 468.40,284.50 C468.91,285.13 470.13,285.42 470.80,286.00 C471.47,286.58 473.38,289.28 474.10,289.50 C474.82,289.72 476.32,287.81 477.00,287.90 C477.68,287.99 479.06,289.86 479.90,290.30 C480.74,290.74 483.14,291.36 484.20,291.70 C485.26,292.04 487.99,292.95 489.00,293.20 C490.01,293.44 492.44,293.65 492.90,293.80 C493.35,293.95 492.90,294.42 492.90,294.50" fill="none" stroke="#c83a5a" stroke-width="1.05" stroke-linejoin="round"/>
<rect x="410.50" y="196.50" width="101.00" height="98.00" fill="none" stroke="#231f20" stroke-width="1.2"/>
<path d="M408.60,289.46H410.50M408.60,284.82H410.50M408.60,280.18H410.50M408.60,270.90H410.50M408.60,266.26H410.50M408.60,261.62H410.50M408.60,252.34H410.50M408.60,247.70H410.50M408.60,243.06H410.50M408.60,233.78H410.50M408.60,229.14H410.50M408.60,224.50H410.50M408.60,215.22H410.50M408.60,210.58H410.50M408.60,205.94H410.50" fill="none" stroke="#231f20" stroke-width="0.8" />
<line x1="407.50" y1="294.10" x2="410.50" y2="294.10" stroke="#231f20" stroke-width="0.9" />
<text x="405.00" y="296.80" font-size="7.6" stroke="#231f20" stroke-width="0.15" text-anchor="end" >0</text>
<line x1="407.50" y1="275.54" x2="410.50" y2="275.54" stroke="#231f20" stroke-width="0.9" />
<text x="405.00" y="278.24" font-size="7.6" stroke="#231f20" stroke-width="0.15" text-anchor="end" >20</text>
<line x1="407.50" y1="256.98" x2="410.50" y2="256.98" stroke="#231f20" stroke-width="0.9" />
<text x="405.00" y="259.68" font-size="7.6" stroke="#231f20" stroke-width="0.15" text-anchor="end" >40</text>
<line x1="407.50" y1="238.42" x2="410.50" y2="238.42" stroke="#231f20" stroke-width="0.9" />
<text x="405.00" y="241.12" font-size="7.6" stroke="#231f20" stroke-width="0.15" text-anchor="end" >60</text>
<line x1="407.50" y1="219.86" x2="410.50" y2="219.86" stroke="#231f20" stroke-width="0.9" />
<text x="405.00" y="222.56" font-size="7.6" stroke="#231f20" stroke-width="0.15" text-anchor="end" >80</text>
<line x1="407.50" y1="201.30" x2="410.50" y2="201.30" stroke="#231f20" stroke-width="0.9" />
<text x="405.00" y="204.00" font-size="7.6" stroke="#231f20" stroke-width="0.15" text-anchor="end" textLength="12.70" lengthAdjust="spacingAndGlyphs" >100</text>
<path d="M439.54,295.00v2.6 M439.26,295.00v2.6 M439.68,295.00v2.6 M439.12,295.00v2.6 M439.82,295.00v2.6 M438.98,295.00v2.6 M439.96,295.00v2.6 M438.84,295.00v2.6 M440.10,295.00v2.6 M438.70,295.00v2.6 M440.24,295.00v2.6 M438.56,295.00v2.6 M440.38,295.00v2.6 M438.42,295.00v2.6 M440.53,295.00v2.6 M438.27,295.00v2.6 M440.67,295.00v2.6 M438.13,295.00v2.6 M440.81,295.00v2.6 M437.99,295.00v2.6 M442.20,295.00v2.6 M436.60,295.00v2.6 M443.56,295.00v2.6 M435.24,295.00v2.6 M444.88,295.00v2.6 M433.92,295.00v2.6 M446.15,295.00v2.6 M432.65,295.00v2.6 M447.38,295.00v2.6 M431.42,295.00v2.6 M448.54,295.00v2.6 M430.26,295.00v2.6 M449.65,295.00v2.6 M429.15,295.00v2.6 M450.70,295.00v2.6 M428.10,295.00v2.6 M451.70,295.00v2.6 M427.10,295.00v2.6 M459.38,295.00v2.6 M464.46,295.00v2.6 M468.19,295.00v2.6 M471.13,295.00v2.6 M473.55,295.00v2.6 M475.60,295.00v2.6 M477.38,295.00v2.6 M478.96,295.00v2.6 M480.37,295.00v2.6 M489.68,295.00v2.6 M495.13,295.00v2.6 M499.00,295.00v2.6 M502.01,295.00v2.6 M504.46,295.00v2.6 M506.54,295.00v2.6 M508.34,295.00v2.6 M509.92,295.00v2.6 M439.40,295.00v2.6" fill="none" stroke="#231f20" stroke-width="0.55" />
<text x="468.90" y="211.70" font-size="7.6" stroke="#d0445f" stroke-width="0.15" fill="#d0445f" textLength="35.50" lengthAdjust="spacingAndGlyphs" >tet-Lin28b</text>
<text x="492.50" y="223.80" font-size="7.6" stroke="#3a6896" stroke-width="0.15" fill="#3a6896" textLength="11.90" lengthAdjust="spacingAndGlyphs" >Ctrl</text>
<text x="439.80" y="304.40" font-size="7.4" stroke="#231f20" stroke-width="0.15" text-anchor="middle" >0</text>
<text x="478.50" y="304.40" font-size="7.4" stroke="#231f20" stroke-width="0.15" >10<tspan font-size="5.4" dy="-3">4</tspan></text>
<text x="459.40" y="313.50" font-size="8.4" text-anchor="middle" textLength="14.30" lengthAdjust="spacingAndGlyphs" font-weight="bold" >CD41</text>
<text x="389.00" y="247.50" font-size="9.024" text-anchor="middle" textLength="58.00" lengthAdjust="spacingAndGlyphs" font-weight="bold" transform="rotate(-90 389.00 247.50)" stroke="#231f20" stroke-width="0.15">Normalized to mode</text>
<text x="4.60" y="338.00" font-size="10.8" fill="#000" font-weight="bold" stroke="#000" stroke-width="0.35">G</text>
<text x="43.90" y="339.90" font-size="8.6" stroke="#231f20" stroke-width="0.15" textLength="143.80" lengthAdjust="spacingAndGlyphs" >Repetitive postnatal plpC <tspan font-style="italic">Lin28b</tspan><tspan font-size="5.6" dy="-3">−/−</tspan></text>
<line x1="32.50" y1="358.30" x2="32.50" y2="453.95" stroke="#231f20" stroke-width="1.0" />
<line x1="32.00" y1="453.50" x2="88.60" y2="453.50" stroke="#231f20" stroke-width="1.0" />
<line x1="29.50" y1="453.50" x2="32.50" y2="453.50" stroke="#231f20" stroke-width="0.9" />
<text x="27.00" y="456.20" font-size="7.6" stroke="#231f20" stroke-width="0.15" text-anchor="end" >0</text>
<line x1="29.50" y1="438.13" x2="32.50" y2="438.13" stroke="#231f20" stroke-width="0.9" />
<text x="27.00" y="440.83" font-size="7.6" stroke="#231f20" stroke-width="0.15" text-anchor="end" >10</text>
<line x1="29.50" y1="422.76" x2="32.50" y2="422.76" stroke="#231f20" stroke-width="0.9" />
<text x="27.00" y="425.46" font-size="7.6" stroke="#231f20" stroke-width="0.15" text-anchor="end" >20</text>
<line x1="29.50" y1="407.39" x2="32.50" y2="407.39" stroke="#231f20" stroke-width="0.9" />
<text x="27.00" y="410.09" font-size="7.6" stroke="#231f20" stroke-width="0.15" text-anchor="end" >30</text>
<line x1="29.50" y1="392.02" x2="32.50" y2="392.02" stroke="#231f20" stroke-width="0.9" />
<text x="27.00" y="394.72" font-size="7.6" stroke="#231f20" stroke-width="0.15" text-anchor="end" >40</text>
<line x1="29.50" y1="376.65" x2="32.50" y2="376.65" stroke="#231f20" stroke-width="0.9" />
<text x="27.00" y="379.35" font-size="7.6" stroke="#231f20" stroke-width="0.15" text-anchor="end" >50</text>
<line x1="29.50" y1="361.28" x2="32.50" y2="361.28" stroke="#231f20" stroke-width="0.9" />
<text x="27.00" y="363.98" font-size="7.6" stroke="#231f20" stroke-width="0.15" text-anchor="end" >60</text>
<rect x="42.20" y="401.80" width="16.00" height="51.70" fill="#8fd39a" />
<rect x="68.70" y="386.20" width="16.00" height="67.30" fill="#e8909c" />
<line x1="50.20" y1="395.40" x2="50.20" y2="406.10" stroke="#2c6e36" stroke-width="1.0" />
<line x1="46.20" y1="395.40" x2="54.20" y2="395.40" stroke="#2c6e36" stroke-width="1.0" />
<line x1="46.20" y1="406.10" x2="54.20" y2="406.10" stroke="#2c6e36" stroke-width="1.0" />
<line x1="76.70" y1="377.30" x2="76.70" y2="393.80" stroke="#3a1a1a" stroke-width="1.0" />
<line x1="72.70" y1="377.30" x2="80.70" y2="377.30" stroke="#3a1a1a" stroke-width="1.0" />
<line x1="72.70" y1="393.80" x2="80.70" y2="393.80" stroke="#3a1a1a" stroke-width="1.0" />
<circle cx="50.20" cy="392.80" r="1.5" fill="#33b04a" />
<circle cx="44.60" cy="403.70" r="1.5" fill="#33b04a" />
<circle cx="47.60" cy="403.70" r="1.5" fill="#33b04a" />
<circle cx="52.80" cy="403.70" r="1.5" fill="#33b04a" />
<circle cx="55.80" cy="403.70" r="1.5" fill="#33b04a" />
<circle cx="50.20" cy="404.20" r="1.5" fill="#33b04a" />
<circle cx="76.30" cy="374.30" r="1.5" fill="#b0182d" />
<circle cx="76.30" cy="385.80" r="1.5" fill="#b0182d" />
<circle cx="76.30" cy="388.80" r="1.5" fill="#b0182d" />
<circle cx="76.30" cy="391.00" r="1.5" fill="#b0182d" />
<line x1="50.20" y1="453.50" x2="50.20" y2="456.40" stroke="#231f20" stroke-width="0.9" />
<line x1="76.70" y1="453.50" x2="76.70" y2="456.40" stroke="#231f20" stroke-width="0.9" />
<text x="44.80" y="366.90" font-size="8" stroke="#231f20" stroke-width="0.15" textLength="35.30" lengthAdjust="spacingAndGlyphs" >p=0.0571</text>
<text x="9.00" y="464.50" font-size="8.6" stroke="#231f20" stroke-width="0.15" textLength="28.50" lengthAdjust="spacingAndGlyphs" font-style="italic" >Lin28b</text>
<text x="44.20" y="464.50" font-size="8" stroke="#231f20" stroke-width="0.15" textLength="12.60" lengthAdjust="spacingAndGlyphs" >+/+</text>
<text x="70.70" y="464.50" font-size="8" stroke="#231f20" stroke-width="0.15" textLength="11.00" lengthAdjust="spacingAndGlyphs" >−/−</text>
<text x="11.80" y="406.00" font-size="8.64" text-anchor="middle" textLength="51.50" lengthAdjust="spacingAndGlyphs" font-weight="bold" transform="rotate(-90 11.80 406.00)" stroke="#231f20" stroke-width="0.15">% CD41<tspan font-size="6.2" dy="-2.8">+</tspan><tspan dy="2.8"> of HSC</tspan></text>
<text x="109.20" y="356.70" font-size="7.8" stroke="#231f20" stroke-width="0.15" textLength="118.50" lengthAdjust="spacingAndGlyphs" >HSCs: LSK CD150<tspan font-size="5.8" dy="-3.1">+</tspan><tspan dy="3.1">CD48</tspan><tspan font-size="5.8" dy="-3.1">−</tspan><tspan dy="3.1">Flt3</tspan><tspan font-size="5.8" dy="-3.1">−</tspan></text>
<path d="M138.75,453.50 C138.75,453.44 138.44,453.38 138.75,452.90 C139.06,452.42 141.34,450.04 141.90,448.75 C142.47,447.46 143.97,440.94 144.40,440.00 C144.84,439.06 145.88,439.34 146.25,439.40 C146.62,439.46 147.72,440.42 148.10,440.60 C148.47,440.79 149.62,441.81 150.00,441.25 C150.38,440.69 151.53,436.06 151.90,435.00 C152.28,433.94 153.38,431.41 153.75,430.60 C154.12,429.79 155.22,427.77 155.60,426.90 C155.97,426.03 157.19,423.21 157.50,421.90 C157.81,420.58 158.54,414.96 158.75,413.75 C158.96,412.54 159.38,409.75 159.60,409.75 C159.81,409.75 160.67,412.67 160.90,413.75 C161.13,414.83 161.68,420.29 161.90,420.60 C162.12,420.92 162.79,417.98 163.10,416.90 C163.41,415.81 164.66,410.06 165.00,409.75 C165.34,409.44 166.19,412.42 166.50,413.75 C166.81,415.08 167.78,422.29 168.10,423.10 C168.42,423.92 169.44,422.40 169.75,421.90 C170.06,421.40 170.97,418.64 171.25,418.10 C171.53,417.56 172.15,416.56 172.50,416.50 C172.85,416.44 174.40,416.84 174.75,417.50 C175.10,418.16 175.72,421.98 176.00,423.10 C176.28,424.23 177.22,428.08 177.50,428.75 C177.78,429.42 178.50,429.38 178.75,429.75 C179.00,430.12 179.75,431.73 180.00,432.50 C180.25,433.27 180.94,436.94 181.25,437.50 C181.56,438.06 182.72,438.04 183.10,438.10 C183.47,438.16 184.69,437.47 185.00,438.10 C185.31,438.73 185.94,443.33 186.25,444.40 C186.56,445.46 187.72,447.90 188.10,448.75 C188.47,449.60 189.81,452.42 190.00,452.90 C190.19,453.38 190.00,453.44 190.00,453.50 Z" fill="#f2b4bc" stroke="none" stroke-width="0.8" style="mix-blend-mode:multiply"/>
<path d="M136.25,453.50 C136.25,453.44 135.81,453.38 136.25,452.90 C136.69,452.42 139.85,449.98 140.60,448.75 C141.35,447.52 143.19,441.73 143.75,440.60 C144.31,439.48 145.75,437.94 146.25,437.50 C146.75,437.06 148.31,436.75 148.75,436.25 C149.19,435.75 150.22,433.31 150.60,432.50 C150.97,431.69 152.12,428.58 152.50,428.10 C152.88,427.62 154.03,428.06 154.40,427.75 C154.78,427.44 155.88,425.83 156.25,425.00 C156.62,424.17 157.72,420.52 158.10,419.40 C158.47,418.27 159.65,415.13 160.00,413.75 C160.35,412.37 161.29,405.42 161.60,405.60 C161.91,405.79 162.82,414.22 163.10,415.60 C163.38,416.98 164.15,418.96 164.40,419.40 C164.65,419.84 165.31,419.19 165.60,420.00 C165.88,420.81 166.94,426.38 167.25,427.50 C167.56,428.62 168.41,430.38 168.75,431.25 C169.09,432.12 170.22,435.56 170.60,436.25 C170.97,436.94 172.06,437.79 172.50,438.10 C172.94,438.42 174.50,438.77 175.00,439.40 C175.50,440.03 177.00,443.59 177.50,444.40 C178.00,445.21 179.50,446.94 180.00,447.50 C180.50,448.06 182.00,449.46 182.50,450.00 C183.00,450.54 184.75,452.55 185.00,452.90 C185.25,453.25 185.00,453.44 185.00,453.50 Z" fill="#c4e4b8" stroke="none" stroke-width="0.8" style="mix-blend-mode:multiply"/>
<path d="M136.25,453.50 C136.25,453.44 135.81,453.38 136.25,452.90 C136.69,452.42 139.85,449.98 140.60,448.75 C141.35,447.52 143.19,441.73 143.75,440.60 C144.31,439.48 145.75,437.94 146.25,437.50 C146.75,437.06 148.31,436.75 148.75,436.25 C149.19,435.75 150.22,433.31 150.60,432.50 C150.97,431.69 152.12,428.58 152.50,428.10 C152.88,427.62 154.03,428.06 154.40,427.75 C154.78,427.44 155.88,425.83 156.25,425.00 C156.62,424.17 157.72,420.52 158.10,419.40 C158.47,418.27 159.65,415.13 160.00,413.75 C160.35,412.37 161.29,405.42 161.60,405.60 C161.91,405.79 162.82,414.22 163.10,415.60 C163.38,416.98 164.15,418.96 164.40,419.40 C164.65,419.84 165.31,419.19 165.60,420.00 C165.88,420.81 166.94,426.38 167.25,427.50 C167.56,428.62 168.41,430.38 168.75,431.25 C169.09,432.12 170.22,435.56 170.60,436.25 C170.97,436.94 172.06,437.79 172.50,438.10 C172.94,438.42 174.50,438.77 175.00,439.40 C175.50,440.03 177.00,443.59 177.50,444.40 C178.00,445.21 179.50,446.94 180.00,447.50 C180.50,448.06 182.00,449.46 182.50,450.00 C183.00,450.54 184.75,452.55 185.00,452.90 C185.25,453.25 185.00,453.44 185.00,453.50" fill="none" stroke="#55ad4c" stroke-width="0.95" stroke-linejoin="round"/>
<path d="M138.75,453.50 C138.75,453.44 138.44,453.38 138.75,452.90 C139.06,452.42 141.34,450.04 141.90,448.75 C142.47,447.46 143.97,440.94 144.40,440.00 C144.84,439.06 145.88,439.34 146.25,439.40 C146.62,439.46 147.72,440.42 148.10,440.60 C148.47,440.79 149.62,441.81 150.00,441.25 C150.38,440.69 151.53,436.06 151.90,435.00 C152.28,433.94 153.38,431.41 153.75,430.60 C154.12,429.79 155.22,427.77 155.60,426.90 C155.97,426.03 157.19,423.21 157.50,421.90 C157.81,420.58 158.54,414.96 158.75,413.75 C158.96,412.54 159.38,409.75 159.60,409.75 C159.81,409.75 160.67,412.67 160.90,413.75 C161.13,414.83 161.68,420.29 161.90,420.60 C162.12,420.92 162.79,417.98 163.10,416.90 C163.41,415.81 164.66,410.06 165.00,409.75 C165.34,409.44 166.19,412.42 166.50,413.75 C166.81,415.08 167.78,422.29 168.10,423.10 C168.42,423.92 169.44,422.40 169.75,421.90 C170.06,421.40 170.97,418.64 171.25,418.10 C171.53,417.56 172.15,416.56 172.50,416.50 C172.85,416.44 174.40,416.84 174.75,417.50 C175.10,418.16 175.72,421.98 176.00,423.10 C176.28,424.23 177.22,428.08 177.50,428.75 C177.78,429.42 178.50,429.38 178.75,429.75 C179.00,430.12 179.75,431.73 180.00,432.50 C180.25,433.27 180.94,436.94 181.25,437.50 C181.56,438.06 182.72,438.04 183.10,438.10 C183.47,438.16 184.69,437.47 185.00,438.10 C185.31,438.73 185.94,443.33 186.25,444.40 C186.56,445.46 187.72,447.90 188.10,448.75 C188.47,449.60 189.81,452.42 190.00,452.90 C190.19,453.38 190.00,453.44 190.00,453.50" fill="none" stroke="#c0283c" stroke-width="0.95" stroke-linejoin="round"/>
<rect x="123.00" y="364.20" width="90.50" height="89.30" fill="none" stroke="#231f20" stroke-width="1.2"/>
<path d="M121.10,448.81H123.00M121.10,444.53H123.00M121.10,440.25H123.00M121.10,431.68H123.00M121.10,427.39H123.00M121.10,423.11H123.00M121.10,414.54H123.00M121.10,410.25H123.00M121.10,405.96H123.00M121.10,397.39H123.00M121.10,393.11H123.00M121.10,388.82H123.00M121.10,380.25H123.00M121.10,375.97H123.00M121.10,371.68H123.00" fill="none" stroke="#231f20" stroke-width="0.8" />
<line x1="120.00" y1="453.10" x2="123.00" y2="453.10" stroke="#231f20" stroke-width="0.9" />
<text x="117.60" y="455.80" font-size="7.6" stroke="#231f20" stroke-width="0.15" text-anchor="end" >0</text>
<line x1="120.00" y1="435.96" x2="123.00" y2="435.96" stroke="#231f20" stroke-width="0.9" />
<text x="117.60" y="438.66" font-size="7.6" stroke="#231f20" stroke-width="0.15" text-anchor="end" >20</text>
<line x1="120.00" y1="418.82" x2="123.00" y2="418.82" stroke="#231f20" stroke-width="0.9" />
<text x="117.60" y="421.52" font-size="7.6" stroke="#231f20" stroke-width="0.15" text-anchor="end" >40</text>
<line x1="120.00" y1="401.68" x2="123.00" y2="401.68" stroke="#231f20" stroke-width="0.9" />
<text x="117.60" y="404.38" font-size="7.6" stroke="#231f20" stroke-width="0.15" text-anchor="end" >60</text>
<line x1="120.00" y1="384.54" x2="123.00" y2="384.54" stroke="#231f20" stroke-width="0.9" />
<text x="117.60" y="387.24" font-size="7.6" stroke="#231f20" stroke-width="0.15" text-anchor="end" >80</text>
<line x1="120.00" y1="367.40" x2="123.00" y2="367.40" stroke="#231f20" stroke-width="0.9" />
<text x="117.60" y="370.10" font-size="7.6" stroke="#231f20" stroke-width="0.15" text-anchor="end" textLength="12.50" lengthAdjust="spacingAndGlyphs" >100</text>
<path d="M148.11,454.00v2.6 M147.89,454.00v2.6 M148.22,454.00v2.6 M147.78,454.00v2.6 M148.34,454.00v2.6 M147.66,454.00v2.6 M148.45,454.00v2.6 M147.55,454.00v2.6 M148.56,454.00v2.6 M147.44,454.00v2.6 M148.67,454.00v2.6 M147.33,454.00v2.6 M148.78,454.00v2.6 M147.22,454.00v2.6 M148.90,454.00v2.6 M147.10,454.00v2.6 M149.01,454.00v2.6 M146.99,454.00v2.6 M149.12,454.00v2.6 M146.88,454.00v2.6 M150.22,454.00v2.6 M145.78,454.00v2.6 M151.30,454.00v2.6 M144.70,454.00v2.6 M152.33,454.00v2.6 M143.67,454.00v2.6 M153.32,454.00v2.6 M142.68,454.00v2.6 M154.26,454.00v2.6 M141.74,454.00v2.6 M155.14,454.00v2.6 M140.86,454.00v2.6 M155.98,454.00v2.6 M140.02,454.00v2.6 M156.76,454.00v2.6 M139.24,454.00v2.6 M157.50,454.00v2.6 M138.50,454.00v2.6 M163.04,454.00v2.6 M166.62,454.00v2.6 M169.24,454.00v2.6 M171.28,454.00v2.6 M172.97,454.00v2.6 M174.39,454.00v2.6 M175.63,454.00v2.6 M176.73,454.00v2.6 M177.71,454.00v2.6 M184.17,454.00v2.6 M187.95,454.00v2.6 M190.64,454.00v2.6 M192.72,454.00v2.6 M194.42,454.00v2.6 M195.86,454.00v2.6 M197.11,454.00v2.6 M198.21,454.00v2.6 M199.19,454.00v2.6 M205.66,454.00v2.6 M209.45,454.00v2.6 M212.14,454.00v2.6 M148.00,454.00v2.6" fill="none" stroke="#231f20" stroke-width="0.55" />
<text x="124.90" y="374.50" font-size="8.4" stroke="#231f20" stroke-width="0.15" textLength="24.70" lengthAdjust="spacingAndGlyphs" font-style="italic" >Lin28b</text>
<text x="192.00" y="378.00" font-size="8" stroke="#c0283c" stroke-width="0.15" fill="#c0283c" textLength="12.80" lengthAdjust="spacingAndGlyphs" >−/−</text>
<text x="192.00" y="390.80" font-size="8" stroke="#3aa040" stroke-width="0.15" fill="#3aa040" textLength="12.80" lengthAdjust="spacingAndGlyphs" >+/+</text>
<text x="148.00" y="465.00" font-size="7.4" stroke="#231f20" stroke-width="0.15" text-anchor="middle" >0</text>
<text x="175.50" y="465.00" font-size="7.4" stroke="#231f20" stroke-width="0.15" >10<tspan font-size="5.4" dy="-3">4</tspan></text>
<text x="197.00" y="465.00" font-size="7.4" stroke="#231f20" stroke-width="0.15" >10<tspan font-size="5.4" dy="-3">5</tspan></text>
<text x="168.80" y="475.60" font-size="8.4" text-anchor="middle" textLength="14.00" lengthAdjust="spacingAndGlyphs" font-weight="bold" >CD41</text>
<text x="102.60" y="408.40" font-size="9.024" text-anchor="middle" textLength="56.70" lengthAdjust="spacingAndGlyphs" font-weight="bold" transform="rotate(-90 102.60 408.40)" stroke="#231f20" stroke-width="0.15">Normalized to mode</text>
<text x="257.30" y="337.90" font-size="10.8" fill="#000" font-weight="bold" stroke="#000" stroke-width="0.35">H</text>
<text x="306.60" y="380.40" font-size="9.2" stroke="#231f20" stroke-width="0.15" textLength="56.00" lengthAdjust="spacingAndGlyphs" ><tspan font-style="italic">Lin28b</tspan>-eGFP</text>
<path d="M309.4,388.2 C313,388.5 318,389.2 322,390.6 C326,391.9 329.5,393.6 332.2,395.7 C329,394.6 325.5,393.2 321.6,392.2 C317.5,391.2 313.5,390.8 310.6,390.8 Z" fill="#2a2a2a" stroke="none" stroke-width="0.8" />
<path d="M268.5,391.7 C269.8,389.6 271.2,388 272.7,386.7 C273.6,385.8 274.4,384.8 275,383.6 L276.9,378.2 L279.2,382.4 C279.4,381.2 280.4,380.4 281.6,380.4 C283.2,380.4 284.4,381.4 284.4,382.6 C287,381.6 291,380.3 295.8,380.2 C299,380.2 301.5,381 303.5,382.2 C306,383.6 308,386 309.4,388.2 C310.2,389.2 310.8,390 311.2,390.6 C312.6,391.4 314.4,392.4 315.2,393.4 C316.2,394.6 315.8,396.4 314.4,397.1 C313.2,397.6 311.8,397.4 311.2,396.6 C311.6,396 312.4,395.6 313,395.4 C311.8,394.8 310.8,394.4 310.2,394.4 C307.5,394.8 304.5,395.3 302.5,395.2 C301.5,395.1 300.8,394.6 300.2,394.4 C296,394.6 290,395 284.6,395.6 L279.4,398.8 C278.6,399.3 277.8,398.8 278.4,398.2 L281.8,395.8 L276,397.4 C274.4,397.8 273,397.6 273.6,396.8 L277.6,394.2 C275.4,393.9 272.8,393.6 271.2,393.2 C270,392.9 269,392.4 268.5,391.7 Z" fill="#d9d9d9" stroke="#111" stroke-width="0.75" stroke-linejoin="round"/>
<path d="M279.4,382.8 C279.6,380.9 282.4,379.8 283.9,381.3 C285,382.6 284.5,385.1 283.1,386.6" fill="none" stroke="#111" stroke-width="0.7" />
<circle cx="275.40" cy="387.80" r="0.85" fill="#111" />
<line x1="258.00" y1="425.00" x2="267.10" y2="425.00" stroke="#111" stroke-width="0.9" />
<rect x="267.10" y="416.40" width="88.40" height="8.40" fill="#fff" stroke="#111" stroke-width="0.8"/>
<rect x="299.00" y="416.40" width="23.00" height="8.40" fill="#8fd08f" stroke="#111" stroke-width="0.8"/>
<line x1="294.00" y1="416.40" x2="294.00" y2="424.80" stroke="#111" stroke-width="0.8" />
<text x="269.10" y="422.70" font-size="7.0" stroke="#231f20" stroke-width="0.15" textLength="23.30" lengthAdjust="spacingAndGlyphs" >Lin28b</text>
<text x="300.40" y="422.70" font-size="7.0" stroke="#1f5a1f" stroke-width="0.15" fill="#1f5a1f" textLength="20.20" lengthAdjust="spacingAndGlyphs" >eGFP</text>
<text x="325.30" y="422.70" font-size="7.0" stroke="#231f20" stroke-width="0.15" textLength="24.60" lengthAdjust="spacingAndGlyphs" >3′ UTR</text>
<text x="302.50" y="408.50" font-size="8.2" stroke="#231f20" stroke-width="0.15" textLength="38.30" lengthAdjust="spacingAndGlyphs" >3<tspan font-size="5.5">x</tspan>GGGGS</text>
<path d="M266.9,416.4 V409.8 H272.2" fill="none" stroke="#111" stroke-width="0.8" />
<path d="M271.6,408.1 L274.8,409.8 L271.6,411.5 Z" fill="#111" stroke="none" stroke-width="0.8" />
<line x1="301.00" y1="409.30" x2="296.50" y2="416.40" stroke="#111" stroke-width="0.7" />
<path d="M420.90,453.10 C421.37,452.66 423.97,449.90 424.90,449.30 C425.83,448.70 428.04,449.49 428.90,448.00 C429.76,446.51 431.44,438.77 432.30,436.50 C433.16,434.23 435.44,430.38 436.30,428.50 C437.16,426.62 439.07,422.29 439.70,420.40 C440.33,418.51 441.23,413.96 441.70,412.30 C442.17,410.64 443.26,407.58 443.70,406.20 C444.14,404.82 445.02,400.42 445.50,400.50 C445.98,400.58 447.26,404.81 447.80,406.90 C448.34,408.99 449.63,415.88 450.10,418.40 C450.57,420.92 451.37,426.39 451.80,428.50 C452.23,430.61 453.25,434.31 453.80,436.50 C454.35,438.69 455.79,445.64 456.50,447.30 C457.21,448.96 459.11,450.23 459.90,450.70 C460.69,451.17 462.44,451.02 463.30,451.30 C464.16,451.58 466.83,452.89 467.30,453.10" fill="none" stroke="#c42c4c" stroke-width="0.95" />
<path d="M432.30,453.50 C432.30,453.45 431.90,453.82 432.30,453.10 C432.70,452.38 434.99,448.76 435.70,447.30 C436.41,445.84 437.78,441.55 438.40,440.60 C439.02,439.66 440.38,440.31 441.00,439.20 C441.62,438.09 443.07,434.09 443.70,431.10 C444.33,428.11 445.84,417.29 446.40,413.60 C446.96,409.91 448.10,401.38 448.50,399.50 C448.90,397.62 449.50,397.42 449.80,397.50 C450.10,397.58 450.70,398.94 451.10,400.20 C451.50,401.46 452.72,406.11 453.20,408.30 C453.68,410.49 454.65,416.34 455.20,419.00 C455.75,421.66 457.20,428.27 457.90,431.10 C458.60,433.94 460.42,440.94 461.20,443.30 C461.98,445.66 463.98,450.16 464.60,451.30 C465.22,452.44 466.28,452.84 466.50,453.10 C466.72,453.36 466.50,453.45 466.50,453.50 Z" fill="#c6e8c2" stroke="none" stroke-width="0.8" style="mix-blend-mode:multiply"/>
<path d="M447.50,453.50 C447.50,453.45 447.15,455.08 447.50,453.10 C447.85,451.12 450.00,440.31 450.50,436.50 C451.00,432.69 451.44,423.75 451.80,420.40 C452.16,417.05 453.03,410.00 453.60,407.80 C454.17,405.60 456.11,402.85 456.70,401.50 C457.29,400.15 458.22,397.45 458.70,396.20 C459.18,394.95 460.32,390.33 460.80,390.80 C461.28,391.27 462.33,397.69 462.80,400.20 C463.27,402.71 464.33,409.63 464.80,412.30 C465.27,414.97 466.33,420.28 466.80,423.10 C467.27,425.92 468.32,433.52 468.80,436.50 C469.28,439.48 470.42,446.66 470.90,448.60 C471.38,450.54 472.67,452.53 472.90,453.10 C473.13,453.67 472.90,453.45 472.90,453.50 Z" fill="#8ed08e" stroke="none" stroke-width="0.8" style="mix-blend-mode:multiply"/>
<path d="M472.20,453.50 C472.20,453.45 471.88,454.45 472.20,453.10 C472.51,451.75 474.27,444.47 474.90,441.90 C475.53,439.33 477.05,433.77 477.60,431.10 C478.15,428.43 479.13,421.35 479.60,419.00 C480.07,416.65 481.05,412.49 481.60,411.00 C482.15,409.51 483.67,406.44 484.30,406.20 C484.93,405.95 486.45,407.87 487.00,408.90 C487.55,409.93 488.60,413.19 489.00,415.00 C489.40,416.81 490.08,421.89 490.40,424.40 C490.71,426.91 491.38,433.83 491.70,436.50 C492.01,439.17 492.70,445.36 493.10,447.30 C493.50,449.24 494.87,452.38 495.10,453.10 C495.33,453.82 495.10,453.45 495.10,453.50 Z" fill="#c0d5e7" stroke="none" stroke-width="0.8" style="mix-blend-mode:multiply"/>
<path d="M487.70,453.50 C487.70,453.45 487.47,454.14 487.70,453.10 C487.93,452.06 489.23,447.00 489.70,444.60 C490.17,442.20 491.23,435.80 491.70,432.50 C492.17,429.20 493.30,419.52 493.70,416.30 C494.10,413.08 494.74,406.74 495.10,404.90 C495.46,403.06 496.40,400.58 496.80,400.50 C497.20,400.42 498.07,402.19 498.50,404.20 C498.93,406.21 500.03,414.71 500.50,417.70 C500.97,420.69 501.95,427.61 502.50,429.80 C503.05,431.99 504.57,434.77 505.20,436.50 C505.83,438.23 507.20,442.87 507.90,444.60 C508.60,446.33 510.57,450.31 511.20,451.30 C511.83,452.29 513.05,452.84 513.30,453.10 C513.54,453.36 513.30,453.45 513.30,453.50 Z" fill="#7ba2c9" stroke="none" stroke-width="0.8" style="mix-blend-mode:multiply"/>
<path d="M432.30,453.50 C432.30,453.45 431.90,453.82 432.30,453.10 C432.70,452.38 434.99,448.76 435.70,447.30 C436.41,445.84 437.78,441.55 438.40,440.60 C439.02,439.66 440.38,440.31 441.00,439.20 C441.62,438.09 443.07,434.09 443.70,431.10 C444.33,428.11 445.84,417.29 446.40,413.60 C446.96,409.91 448.10,401.38 448.50,399.50 C448.90,397.62 449.50,397.42 449.80,397.50 C450.10,397.58 450.70,398.94 451.10,400.20 C451.50,401.46 452.72,406.11 453.20,408.30 C453.68,410.49 454.65,416.34 455.20,419.00 C455.75,421.66 457.20,428.27 457.90,431.10 C458.60,433.94 460.42,440.94 461.20,443.30 C461.98,445.66 463.98,450.16 464.60,451.30 C465.22,452.44 466.28,452.84 466.50,453.10 C466.72,453.36 466.50,453.45 466.50,453.50" fill="none" stroke="#4aa84a" stroke-width="1.0" stroke-linejoin="round"/>
<path d="M447.50,453.50 C447.50,453.45 447.15,455.08 447.50,453.10 C447.85,451.12 450.00,440.31 450.50,436.50 C451.00,432.69 451.44,423.75 451.80,420.40 C452.16,417.05 453.03,410.00 453.60,407.80 C454.17,405.60 456.11,402.85 456.70,401.50 C457.29,400.15 458.22,397.45 458.70,396.20 C459.18,394.95 460.32,390.33 460.80,390.80 C461.28,391.27 462.33,397.69 462.80,400.20 C463.27,402.71 464.33,409.63 464.80,412.30 C465.27,414.97 466.33,420.28 466.80,423.10 C467.27,425.92 468.32,433.52 468.80,436.50 C469.28,439.48 470.42,446.66 470.90,448.60 C471.38,450.54 472.67,452.53 472.90,453.10 C473.13,453.67 472.90,453.45 472.90,453.50" fill="none" stroke="#2f8f3a" stroke-width="1.0" stroke-linejoin="round"/>
<path d="M472.20,453.50 C472.20,453.45 471.88,454.45 472.20,453.10 C472.51,451.75 474.27,444.47 474.90,441.90 C475.53,439.33 477.05,433.77 477.60,431.10 C478.15,428.43 479.13,421.35 479.60,419.00 C480.07,416.65 481.05,412.49 481.60,411.00 C482.15,409.51 483.67,406.44 484.30,406.20 C484.93,405.95 486.45,407.87 487.00,408.90 C487.55,409.93 488.60,413.19 489.00,415.00 C489.40,416.81 490.08,421.89 490.40,424.40 C490.71,426.91 491.38,433.83 491.70,436.50 C492.01,439.17 492.70,445.36 493.10,447.30 C493.50,449.24 494.87,452.38 495.10,453.10 C495.33,453.82 495.10,453.45 495.10,453.50" fill="none" stroke="#34597e" stroke-width="1.1" stroke-linejoin="round"/>
<path d="M487.70,453.50 C487.70,453.45 487.47,454.14 487.70,453.10 C487.93,452.06 489.23,447.00 489.70,444.60 C490.17,442.20 491.23,435.80 491.70,432.50 C492.17,429.20 493.30,419.52 493.70,416.30 C494.10,413.08 494.74,406.74 495.10,404.90 C495.46,403.06 496.40,400.58 496.80,400.50 C497.20,400.42 498.07,402.19 498.50,404.20 C498.93,406.21 500.03,414.71 500.50,417.70 C500.97,420.69 501.95,427.61 502.50,429.80 C503.05,431.99 504.57,434.77 505.20,436.50 C505.83,438.23 507.20,442.87 507.90,444.60 C508.60,446.33 510.57,450.31 511.20,451.30 C511.83,452.29 513.05,452.84 513.30,453.10 C513.54,453.36 513.30,453.45 513.30,453.50" fill="none" stroke="#24466c" stroke-width="1.1" stroke-linejoin="round"/>
<rect x="403.50" y="366.50" width="114.00" height="87.00" fill="none" stroke="#231f20" stroke-width="1.2"/>
<path d="M401.60,449.08H403.50M401.60,444.96H403.50M401.60,440.84H403.50M401.60,432.60H403.50M401.60,428.48H403.50M401.60,424.36H403.50M401.60,416.12H403.50M401.60,412.00H403.50M401.60,407.88H403.50M401.60,399.64H403.50M401.60,395.52H403.50M401.60,391.40H403.50M401.60,383.16H403.50M401.60,379.04H403.50M401.60,374.92H403.50" fill="none" stroke="#231f20" stroke-width="0.8" />
<line x1="400.50" y1="453.20" x2="403.50" y2="453.20" stroke="#231f20" stroke-width="0.9" />
<text x="398.80" y="455.90" font-size="7.6" stroke="#231f20" stroke-width="0.15" text-anchor="end" >0</text>
<line x1="400.50" y1="436.72" x2="403.50" y2="436.72" stroke="#231f20" stroke-width="0.9" />
<text x="398.80" y="439.42" font-size="7.6" stroke="#231f20" stroke-width="0.15" text-anchor="end" >20</text>
<line x1="400.50" y1="420.24" x2="403.50" y2="420.24" stroke="#231f20" stroke-width="0.9" />
<text x="398.80" y="422.94" font-size="7.6" stroke="#231f20" stroke-width="0.15" text-anchor="end" >40</text>
<line x1="400.50" y1="403.76" x2="403.50" y2="403.76" stroke="#231f20" stroke-width="0.9" />
<text x="398.80" y="406.46" font-size="7.6" stroke="#231f20" stroke-width="0.15" text-anchor="end" >60</text>
<line x1="400.50" y1="387.28" x2="403.50" y2="387.28" stroke="#231f20" stroke-width="0.9" />
<text x="398.80" y="389.98" font-size="7.6" stroke="#231f20" stroke-width="0.15" text-anchor="end" >80</text>
<line x1="400.50" y1="370.80" x2="403.50" y2="370.80" stroke="#231f20" stroke-width="0.9" />
<text x="398.80" y="373.50" font-size="7.6" stroke="#231f20" stroke-width="0.15" text-anchor="end" textLength="12.70" lengthAdjust="spacingAndGlyphs" >100</text>
<path d="M431.49,454.00v2.6 M430.11,454.00v2.6 M432.18,454.00v2.6 M429.42,454.00v2.6 M432.86,454.00v2.6 M428.74,454.00v2.6 M433.54,454.00v2.6 M428.06,454.00v2.6 M434.22,454.00v2.6 M427.38,454.00v2.6 M434.89,454.00v2.6 M426.71,454.00v2.6 M435.56,454.00v2.6 M426.04,454.00v2.6 M436.21,454.00v2.6 M425.39,454.00v2.6 M436.86,454.00v2.6 M424.74,454.00v2.6 M437.50,454.00v2.6 M424.10,454.00v2.6 M443.27,454.00v2.6 M418.33,454.00v2.6 M447.95,454.00v2.6 M413.65,454.00v2.6 M451.74,454.00v2.6 M409.86,454.00v2.6 M454.89,454.00v2.6 M406.71,454.00v2.6 M457.55,454.00v2.6 M404.05,454.00v2.6 M459.85,454.00v2.6 M461.87,454.00v2.6 M463.68,454.00v2.6 M465.30,454.00v2.6 M476.13,454.00v2.6 M482.53,454.00v2.6 M487.08,454.00v2.6 M490.62,454.00v2.6 M493.50,454.00v2.6 M495.95,454.00v2.6 M498.06,454.00v2.6 M499.93,454.00v2.6 M501.60,454.00v2.6 M512.58,454.00v2.6 M430.80,454.00v2.6" fill="none" stroke="#231f20" stroke-width="0.55" />
<text x="412.10" y="426.40" font-size="8" stroke="#231f20" stroke-width="0.15" textLength="12.80" lengthAdjust="spacingAndGlyphs" >WT</text>
<text x="412.10" y="434.50" font-size="8" stroke="#231f20" stroke-width="0.15" textLength="12.90" lengthAdjust="spacingAndGlyphs" >Ctrl</text>
<text x="440.10" y="394.20" font-size="8" stroke="#231f20" stroke-width="0.15" textLength="13.70" lengthAdjust="spacingAndGlyphs" >d19</text>
<text x="457.20" y="385.40" font-size="8" stroke="#231f20" stroke-width="0.15" textLength="14.10" lengthAdjust="spacingAndGlyphs" >d10</text>
<text x="470.90" y="395.10" font-size="8" stroke="#231f20" stroke-width="0.15" textLength="20.80" lengthAdjust="spacingAndGlyphs" >E18.5</text>
<text x="494.40" y="395.10" font-size="8" stroke="#231f20" stroke-width="0.15" textLength="21.60" lengthAdjust="spacingAndGlyphs" >E14.5</text>
<text x="430.80" y="464.60" font-size="7.4" stroke="#231f20" stroke-width="0.15" text-anchor="middle" >0</text>
<text x="460.70" y="464.60" font-size="7.6" stroke="#231f20" stroke-width="0.15" textLength="11.00" lengthAdjust="spacingAndGlyphs" >10<tspan font-size="5.4" dy="-3">3</tspan></text>
<text x="498.00" y="464.60" font-size="7.4" stroke="#231f20" stroke-width="0.15" >10<tspan font-size="5.4" dy="-3">4</tspan></text>
<text x="461.10" y="476.50" font-size="8.4" text-anchor="middle" textLength="15.30" lengthAdjust="spacingAndGlyphs" font-weight="bold" >eGFP</text>
<text x="383.00" y="410.00" font-size="9.024" text-anchor="middle" textLength="57.00" lengthAdjust="spacingAndGlyphs" font-weight="bold" transform="rotate(-90 383.00 410.00)" stroke="#231f20" stroke-width="0.15">Normalized to mode</text>
<rect x="5.00" y="497.00" width="2.10" height="7.70" fill="#000" />
<text x="66.50" y="510.00" font-size="8.6" stroke="#231f20" stroke-width="0.15" textLength="109.70" lengthAdjust="spacingAndGlyphs" >Lin28b expression in HSCs</text>
<line x1="32.50" y1="519.80" x2="32.50" y2="642.95" stroke="#231f20" stroke-width="1.0" />
<line x1="32.00" y1="642.50" x2="210.30" y2="642.50" stroke="#231f20" stroke-width="1.0" />
<line x1="29.50" y1="642.50" x2="32.50" y2="642.50" stroke="#231f20" stroke-width="0.9" />
<text x="27.60" y="645.20" font-size="7.6" stroke="#231f20" stroke-width="0.15" text-anchor="end" >0</text>
<line x1="29.50" y1="618.70" x2="32.50" y2="618.70" stroke="#231f20" stroke-width="0.9" />
<text x="27.60" y="621.40" font-size="7.6" stroke="#231f20" stroke-width="0.15" text-anchor="end" >20</text>
<line x1="29.50" y1="594.90" x2="32.50" y2="594.90" stroke="#231f20" stroke-width="0.9" />
<text x="27.60" y="597.60" font-size="7.6" stroke="#231f20" stroke-width="0.15" text-anchor="end" >40</text>
<line x1="29.50" y1="571.10" x2="32.50" y2="571.10" stroke="#231f20" stroke-width="0.9" />
<text x="27.60" y="573.80" font-size="7.6" stroke="#231f20" stroke-width="0.15" text-anchor="end" >60</text>
<line x1="29.50" y1="547.30" x2="32.50" y2="547.30" stroke="#231f20" stroke-width="0.9" />
<text x="27.60" y="550.00" font-size="7.6" stroke="#231f20" stroke-width="0.15" text-anchor="end" >80</text>
<line x1="29.50" y1="523.50" x2="32.50" y2="523.50" stroke="#231f20" stroke-width="0.9" />
<text x="27.60" y="526.20" font-size="7.6" stroke="#231f20" stroke-width="0.15" text-anchor="end" textLength="12.70" lengthAdjust="spacingAndGlyphs" >100</text>
<line x1="42.30" y1="642.50" x2="42.30" y2="645.50" stroke="#231f20" stroke-width="0.9" />
<line x1="62.00" y1="642.50" x2="62.00" y2="645.50" stroke="#231f20" stroke-width="0.9" />
<line x1="81.80" y1="642.50" x2="81.80" y2="645.50" stroke="#231f20" stroke-width="0.9" />
<line x1="101.60" y1="642.50" x2="101.60" y2="645.50" stroke="#231f20" stroke-width="0.9" />
<line x1="121.40" y1="642.50" x2="121.40" y2="645.50" stroke="#231f20" stroke-width="0.9" />
<line x1="141.40" y1="642.50" x2="141.40" y2="645.50" stroke="#231f20" stroke-width="0.9" />
<line x1="161.30" y1="642.50" x2="161.30" y2="645.50" stroke="#231f20" stroke-width="0.9" />
<line x1="181.00" y1="642.50" x2="181.00" y2="645.50" stroke="#231f20" stroke-width="0.9" />
<line x1="200.70" y1="642.50" x2="200.70" y2="645.50" stroke="#231f20" stroke-width="0.9" />
<line x1="81.80" y1="523.50" x2="81.80" y2="541.95" stroke="#d0606e" stroke-width="0.9" />
<line x1="79.60" y1="523.50" x2="84.00" y2="523.50" stroke="#d0606e" stroke-width="0.9" />
<line x1="79.60" y1="541.95" x2="84.00" y2="541.95" stroke="#d0606e" stroke-width="0.9" />
<line x1="101.60" y1="576.10" x2="101.60" y2="589.43" stroke="#d0606e" stroke-width="0.9" />
<line x1="99.40" y1="576.10" x2="103.80" y2="576.10" stroke="#d0606e" stroke-width="0.9" />
<line x1="99.40" y1="589.43" x2="103.80" y2="589.43" stroke="#d0606e" stroke-width="0.9" />
<line x1="121.40" y1="586.57" x2="121.40" y2="598.83" stroke="#d0606e" stroke-width="0.9" />
<line x1="119.20" y1="586.57" x2="123.60" y2="586.57" stroke="#d0606e" stroke-width="0.9" />
<line x1="119.20" y1="598.83" x2="123.60" y2="598.83" stroke="#d0606e" stroke-width="0.9" />
<line x1="141.40" y1="608.82" x2="141.40" y2="620.60" stroke="#d0606e" stroke-width="0.9" />
<line x1="139.20" y1="608.82" x2="143.60" y2="608.82" stroke="#d0606e" stroke-width="0.9" />
<line x1="139.20" y1="620.60" x2="143.60" y2="620.60" stroke="#d0606e" stroke-width="0.9" />
<polyline points="42.30,523.50 62.00,523.50 81.80,533.02 101.60,583.60 121.40,592.52 141.40,614.65 161.30,642.26 181.00,640.12 200.70,641.31" fill="none" stroke="#c0183a" stroke-width="1.5" stroke-linejoin="round"/>
<circle cx="42.30" cy="523.50" r="2.2" fill="#c0183a" />
<circle cx="62.00" cy="523.50" r="2.2" fill="#c0183a" />
<circle cx="81.80" cy="533.02" r="2.2" fill="#c0183a" />
<circle cx="101.60" cy="583.60" r="2.2" fill="#c0183a" />
<circle cx="121.40" cy="592.52" r="2.2" fill="#c0183a" />
<circle cx="141.40" cy="614.65" r="2.2" fill="#c0183a" />
<circle cx="161.30" cy="642.26" r="2.2" fill="#c0183a" />
<circle cx="181.00" cy="640.12" r="2.2" fill="#c0183a" />
<circle cx="200.70" cy="641.31" r="2.2" fill="#c0183a" />
<text x="45.10" y="652.40" font-size="7.7" stroke="#231f20" stroke-width="0.15" text-anchor="end" transform="rotate(-45 45.10 652.40)" >E14.5</text>
<text x="64.80" y="652.40" font-size="7.7" stroke="#231f20" stroke-width="0.15" text-anchor="end" transform="rotate(-45 64.80 652.40)" >E18.5</text>
<text x="84.60" y="652.40" font-size="7.7" stroke="#231f20" stroke-width="0.15" text-anchor="end" transform="rotate(-45 84.60 652.40)" >d2</text>
<text x="104.40" y="652.40" font-size="7.7" stroke="#231f20" stroke-width="0.15" text-anchor="end" transform="rotate(-45 104.40 652.40)" >d10</text>
<text x="124.20" y="652.40" font-size="7.7" stroke="#231f20" stroke-width="0.15" text-anchor="end" transform="rotate(-45 124.20 652.40)" >d11</text>
<text x="144.20" y="652.40" font-size="7.7" stroke="#231f20" stroke-width="0.15" text-anchor="end" transform="rotate(-45 144.20 652.40)" >d14</text>
<text x="164.10" y="652.40" font-size="7.7" stroke="#231f20" stroke-width="0.15" text-anchor="end" transform="rotate(-45 164.10 652.40)" >d19</text>
<text x="183.80" y="652.40" font-size="7.7" stroke="#231f20" stroke-width="0.15" text-anchor="end" transform="rotate(-45 183.80 652.40)" >5w</text>
<text x="203.50" y="652.40" font-size="7.7" stroke="#231f20" stroke-width="0.15" text-anchor="end" transform="rotate(-45 203.50 652.40)" >12–13w</text>
<text x="116.20" y="674.80" font-size="8.4" textLength="11.50" lengthAdjust="spacingAndGlyphs" font-weight="bold" >Age</text>
<text x="11.00" y="580.80" font-size="8.64" text-anchor="middle" textLength="53.00" lengthAdjust="spacingAndGlyphs" font-weight="bold" transform="rotate(-90 11.00 580.80)" stroke="#231f20" stroke-width="0.15">% eGFP<tspan font-size="6.2" dy="-2.8">+</tspan><tspan dy="2.8"> of HSCs</tspan></text>
<text x="224.40" y="504.80" font-size="10.8" fill="#000" font-weight="bold" stroke="#000" stroke-width="0.35">J</text>
<text x="342.70" y="505.00" font-size="8.8" stroke="#231f20" stroke-width="0.15" textLength="96.90" lengthAdjust="spacingAndGlyphs" ><tspan font-style="italic">Lin28b</tspan>-eGFP d11 plpC</text>
<path d="M291.30,641.40 C291.71,639.88 293.98,631.55 294.80,628.40 C295.62,625.25 297.48,617.01 298.30,614.40 C299.12,611.79 301.23,608.12 301.80,606.00 C302.37,603.88 302.87,598.49 303.20,596.20 C303.53,593.91 304.31,587.95 304.60,586.40 C304.89,584.85 305.37,582.74 305.70,582.90 C306.03,583.06 306.88,586.57 307.40,587.80 C307.92,589.02 309.46,592.09 310.20,593.40 C310.94,594.71 312.88,598.02 313.70,599.00 C314.52,599.98 316.63,600.66 317.20,601.80 C317.77,602.94 318.19,606.51 318.60,608.80 C319.01,611.09 320.21,619.36 320.70,621.40 C321.19,623.44 322.06,625.07 322.80,626.30 C323.54,627.52 326.18,630.67 327.00,631.90 C327.82,633.12 329.06,635.69 329.80,636.80 C330.54,637.91 332.89,640.86 333.30,641.40" fill="none" stroke="#c42c4c" stroke-width="0.95" />
<path d="M304.60,641.50 C304.60,641.49 304.19,641.78 304.60,641.40 C305.01,641.01 307.37,639.06 308.10,638.20 C308.84,637.34 310.25,635.63 310.90,634.00 C311.55,632.37 313.13,626.32 313.70,624.20 C314.27,622.08 315.31,618.25 315.80,615.80 C316.29,613.35 317.41,606.79 317.90,603.20 C318.39,599.61 319.56,589.25 320.00,585.00 C320.44,580.75 321.34,569.87 321.70,566.80 C322.06,563.73 322.73,558.86 323.10,558.70 C323.47,558.54 324.44,563.15 324.90,565.40 C325.35,567.65 326.51,575.71 327.00,578.00 C327.49,580.29 328.61,582.88 329.10,585.00 C329.59,587.12 330.71,593.42 331.20,596.20 C331.69,598.98 332.73,606.02 333.30,608.80 C333.87,611.58 335.45,617.71 336.10,620.00 C336.75,622.29 338.25,626.77 338.90,628.40 C339.55,630.03 340.96,632.77 341.70,634.00 C342.44,635.23 344.38,638.04 345.20,638.90 C346.02,639.76 348.29,641.10 348.70,641.40 C349.11,641.70 348.70,641.49 348.70,641.50 Z" fill="#dec4e0" stroke="none" stroke-width="0.8" style="mix-blend-mode:multiply"/>
<path d="M310.90,641.50 C310.90,641.49 310.41,642.27 310.90,641.40 C311.39,640.52 314.28,635.35 315.10,634.00 C315.92,632.65 317.25,630.21 317.90,629.80 C318.55,629.39 320.13,631.32 320.70,630.50 C321.27,629.68 322.36,625.33 322.80,622.80 C323.24,620.27 324.09,612.56 324.50,608.80 C324.91,605.04 325.93,593.87 326.30,590.60 C326.67,587.33 327.33,582.60 327.70,580.80 C328.07,579.00 329.09,575.04 329.50,575.20 C329.91,575.36 330.71,579.59 331.20,582.20 C331.69,584.81 333.18,596.62 333.70,597.60 C334.22,598.58 335.26,591.99 335.70,590.60 C336.14,589.21 337.13,585.70 337.50,585.70 C337.87,585.70 338.57,588.23 338.90,590.60 C339.23,592.97 339.97,602.57 340.30,606.00 C340.63,609.43 341.29,617.71 341.70,620.00 C342.11,622.29 343.23,624.29 343.80,625.60 C344.37,626.91 345.95,629.89 346.60,631.20 C347.25,632.51 348.91,635.61 349.40,636.80 C349.89,637.99 350.64,640.85 350.80,641.40 C350.96,641.95 350.80,641.49 350.80,641.50 Z" fill="#bed6ea" stroke="none" stroke-width="0.8" style="mix-blend-mode:multiply"/>
<path d="M304.60,641.50 C304.60,641.49 304.19,641.78 304.60,641.40 C305.01,641.01 307.37,639.06 308.10,638.20 C308.84,637.34 310.25,635.63 310.90,634.00 C311.55,632.37 313.13,626.32 313.70,624.20 C314.27,622.08 315.31,618.25 315.80,615.80 C316.29,613.35 317.41,606.79 317.90,603.20 C318.39,599.61 319.56,589.25 320.00,585.00 C320.44,580.75 321.34,569.87 321.70,566.80 C322.06,563.73 322.73,558.86 323.10,558.70 C323.47,558.54 324.44,563.15 324.90,565.40 C325.35,567.65 326.51,575.71 327.00,578.00 C327.49,580.29 328.61,582.88 329.10,585.00 C329.59,587.12 330.71,593.42 331.20,596.20 C331.69,598.98 332.73,606.02 333.30,608.80 C333.87,611.58 335.45,617.71 336.10,620.00 C336.75,622.29 338.25,626.77 338.90,628.40 C339.55,630.03 340.96,632.77 341.70,634.00 C342.44,635.23 344.38,638.04 345.20,638.90 C346.02,639.76 348.29,641.10 348.70,641.40 C349.11,641.70 348.70,641.49 348.70,641.50" fill="none" stroke="#5a3570" stroke-width="1.0" stroke-linejoin="round"/>
<path d="M310.90,641.50 C310.90,641.49 310.41,642.27 310.90,641.40 C311.39,640.52 314.28,635.35 315.10,634.00 C315.92,632.65 317.25,630.21 317.90,629.80 C318.55,629.39 320.13,631.32 320.70,630.50 C321.27,629.68 322.36,625.33 322.80,622.80 C323.24,620.27 324.09,612.56 324.50,608.80 C324.91,605.04 325.93,593.87 326.30,590.60 C326.67,587.33 327.33,582.60 327.70,580.80 C328.07,579.00 329.09,575.04 329.50,575.20 C329.91,575.36 330.71,579.59 331.20,582.20 C331.69,584.81 333.18,596.62 333.70,597.60 C334.22,598.58 335.26,591.99 335.70,590.60 C336.14,589.21 337.13,585.70 337.50,585.70 C337.87,585.70 338.57,588.23 338.90,590.60 C339.23,592.97 339.97,602.57 340.30,606.00 C340.63,609.43 341.29,617.71 341.70,620.00 C342.11,622.29 343.23,624.29 343.80,625.60 C344.37,626.91 345.95,629.89 346.60,631.20 C347.25,632.51 348.91,635.61 349.40,636.80 C349.89,637.99 350.64,640.85 350.80,641.40 C350.96,641.95 350.80,641.49 350.80,641.50" fill="none" stroke="#2b4c78" stroke-width="1.0" stroke-linejoin="round"/>
<rect x="263.50" y="512.50" width="129.00" height="129.00" fill="none" stroke="#231f20" stroke-width="1.2"/>
<path d="M261.60,635.43H263.50M261.60,629.26H263.50M261.60,623.09H263.50M261.60,610.75H263.50M261.60,604.58H263.50M261.60,598.41H263.50M261.60,586.07H263.50M261.60,579.90H263.50M261.60,573.73H263.50M261.60,561.39H263.50M261.60,555.22H263.50M261.60,549.05H263.50M261.60,536.71H263.50M261.60,530.54H263.50M261.60,524.37H263.50" fill="none" stroke="#231f20" stroke-width="0.8" />
<line x1="260.50" y1="641.60" x2="263.50" y2="641.60" stroke="#231f20" stroke-width="0.9" />
<text x="257.80" y="644.30" font-size="7.6" stroke="#231f20" stroke-width="0.15" text-anchor="end" >0</text>
<line x1="260.50" y1="616.92" x2="263.50" y2="616.92" stroke="#231f20" stroke-width="0.9" />
<text x="257.80" y="619.62" font-size="7.6" stroke="#231f20" stroke-width="0.15" text-anchor="end" >20</text>
<line x1="260.50" y1="592.24" x2="263.50" y2="592.24" stroke="#231f20" stroke-width="0.9" />
<text x="257.80" y="594.94" font-size="7.6" stroke="#231f20" stroke-width="0.15" text-anchor="end" >40</text>
<line x1="260.50" y1="567.56" x2="263.50" y2="567.56" stroke="#231f20" stroke-width="0.9" />
<text x="257.80" y="570.26" font-size="7.6" stroke="#231f20" stroke-width="0.15" text-anchor="end" >60</text>
<line x1="260.50" y1="542.88" x2="263.50" y2="542.88" stroke="#231f20" stroke-width="0.9" />
<text x="257.80" y="545.58" font-size="7.6" stroke="#231f20" stroke-width="0.15" text-anchor="end" >80</text>
<line x1="260.50" y1="518.20" x2="263.50" y2="518.20" stroke="#231f20" stroke-width="0.9" />
<text x="257.80" y="520.90" font-size="7.6" stroke="#231f20" stroke-width="0.15" text-anchor="end" textLength="12.80" lengthAdjust="spacingAndGlyphs" >100</text>
<path d="M309.47,642.00v2.6 M308.13,642.00v2.6 M310.14,642.00v2.6 M307.46,642.00v2.6 M310.80,642.00v2.6 M306.80,642.00v2.6 M311.46,642.00v2.6 M306.14,642.00v2.6 M312.12,642.00v2.6 M305.48,642.00v2.6 M312.76,642.00v2.6 M304.84,642.00v2.6 M313.40,642.00v2.6 M304.20,642.00v2.6 M314.02,642.00v2.6 M303.58,642.00v2.6 M314.64,642.00v2.6 M302.96,642.00v2.6 M315.24,642.00v2.6 M302.36,642.00v2.6 M320.55,642.00v2.6 M297.05,642.00v2.6 M324.68,642.00v2.6 M292.92,642.00v2.6 M327.95,642.00v2.6 M289.65,642.00v2.6 M330.61,642.00v2.6 M286.99,642.00v2.6 M332.85,642.00v2.6 M284.75,642.00v2.6 M334.78,642.00v2.6 M282.82,642.00v2.6 M336.46,642.00v2.6 M281.14,642.00v2.6 M337.96,642.00v2.6 M279.64,642.00v2.6 M339.30,642.00v2.6 M278.30,642.00v2.6 M348.24,642.00v2.6 M353.51,642.00v2.6 M357.25,642.00v2.6 M360.15,642.00v2.6 M362.53,642.00v2.6 M364.53,642.00v2.6 M366.27,642.00v2.6 M367.81,642.00v2.6 M369.18,642.00v2.6 M378.21,642.00v2.6 M383.49,642.00v2.6 M387.24,642.00v2.6 M390.15,642.00v2.6 M308.80,642.00v2.6" fill="none" stroke="#231f20" stroke-width="0.55" />
<text x="290.40" y="573.70" font-size="8.4" stroke="#231f20" stroke-width="0.15" text-anchor="middle" textLength="27.50" lengthAdjust="spacingAndGlyphs" >WT/WT</text>
<text x="290.40" y="583.20" font-size="8.4" stroke="#231f20" stroke-width="0.15" text-anchor="middle" textLength="16.70" lengthAdjust="spacingAndGlyphs" >plpC</text>
<text x="327.60" y="541.70" font-size="8.4" stroke="#231f20" stroke-width="0.15" text-anchor="middle" textLength="45.40" lengthAdjust="spacingAndGlyphs" >eGFP/eGFP</text>
<text x="327.60" y="551.70" font-size="8.4" stroke="#231f20" stroke-width="0.15" text-anchor="middle" textLength="16.70" lengthAdjust="spacingAndGlyphs" >plpC</text>
<text x="341.80" y="576.70" font-size="8.4" stroke="#231f20" stroke-width="0.15" textLength="45.40" lengthAdjust="spacingAndGlyphs" >eGFP/eGFP</text>
<text x="341.80" y="586.70" font-size="8.4" stroke="#231f20" stroke-width="0.15" textLength="13.20" lengthAdjust="spacingAndGlyphs" >Ctrl</text>
<text x="264.40" y="653.20" font-size="8.2" stroke="#231f20" stroke-width="0.15" textLength="21.50" lengthAdjust="spacingAndGlyphs" >−10<tspan font-size="5.4" dy="-3">3</tspan></text>
<text x="309.10" y="653.20" font-size="8.2" stroke="#231f20" stroke-width="0.15" text-anchor="middle" >0</text>
<text x="333.50" y="653.20" font-size="8.2" stroke="#231f20" stroke-width="0.15" textLength="13.00" lengthAdjust="spacingAndGlyphs" >10<tspan font-size="5.4" dy="-3">3</tspan></text>
<text x="327.60" y="663.80" font-size="8.6" text-anchor="middle" textLength="16.00" lengthAdjust="spacingAndGlyphs" font-weight="bold" >eGFP</text>
<text x="244.80" y="577.00" font-size="9.024" text-anchor="middle" textLength="57.00" lengthAdjust="spacingAndGlyphs" font-weight="bold" transform="rotate(-90 244.80 577.00)" stroke="#231f20" stroke-width="0.15">Normalized to mode</text>
<line x1="444.50" y1="522.20" x2="444.50" y2="642.95" stroke="#231f20" stroke-width="1.0" />
<line x1="444.00" y1="642.50" x2="518.20" y2="642.50" stroke="#231f20" stroke-width="1.0" />
<line x1="441.50" y1="642.50" x2="444.50" y2="642.50" stroke="#231f20" stroke-width="0.9" />
<text x="439.60" y="645.20" font-size="7.6" stroke="#231f20" stroke-width="0.15" text-anchor="end" >0</text>
<line x1="441.50" y1="603.47" x2="444.50" y2="603.47" stroke="#231f20" stroke-width="0.9" />
<text x="439.60" y="606.17" font-size="7.6" stroke="#231f20" stroke-width="0.15" text-anchor="end" >20</text>
<line x1="441.50" y1="564.43" x2="444.50" y2="564.43" stroke="#231f20" stroke-width="0.9" />
<text x="439.60" y="567.13" font-size="7.6" stroke="#231f20" stroke-width="0.15" text-anchor="end" >40</text>
<line x1="441.50" y1="525.40" x2="444.50" y2="525.40" stroke="#231f20" stroke-width="0.9" />
<text x="439.60" y="528.10" font-size="7.6" stroke="#231f20" stroke-width="0.15" text-anchor="end" >60</text>
<rect x="457.00" y="543.20" width="19.90" height="99.30" fill="#7fa2c4" />
<rect x="490.10" y="589.00" width="19.90" height="53.50" fill="#ad8db8" />
<line x1="466.90" y1="531.50" x2="466.90" y2="551.60" stroke="#1a3550" stroke-width="1.0" />
<line x1="461.50" y1="531.50" x2="472.30" y2="531.50" stroke="#1a3550" stroke-width="1.0" />
<line x1="461.50" y1="551.60" x2="472.30" y2="551.60" stroke="#1a3550" stroke-width="1.0" />
<line x1="500.50" y1="574.80" x2="500.50" y2="601.80" stroke="#2a1f35" stroke-width="1.0" />
<line x1="495.50" y1="574.80" x2="505.50" y2="574.80" stroke="#2a1f35" stroke-width="1.0" />
<line x1="495.50" y1="601.80" x2="505.50" y2="601.80" stroke="#2a1f35" stroke-width="1.0" />
<circle cx="466.90" cy="531.00" r="1.5" fill="#1e4d7a" />
<circle cx="466.90" cy="538.30" r="1.5" fill="#1e4d7a" />
<circle cx="466.90" cy="544.30" r="1.5" fill="#1e4d7a" />
<circle cx="466.90" cy="554.70" r="1.5" fill="#1e4d7a" />
<circle cx="496.80" cy="576.30" r="1.5" fill="#5a2a6a" />
<circle cx="504.10" cy="576.30" r="1.5" fill="#5a2a6a" />
<circle cx="500.50" cy="594.50" r="1.5" fill="#5a2a6a" />
<circle cx="500.50" cy="605.10" r="1.5" fill="#5a2a6a" />
<line x1="466.90" y1="642.50" x2="466.90" y2="645.40" stroke="#231f20" stroke-width="0.9" />
<line x1="500.50" y1="642.50" x2="500.50" y2="645.40" stroke="#231f20" stroke-width="0.9" />
<text x="463.60" y="523.70" font-size="8" stroke="#231f20" stroke-width="0.15" textLength="36.90" lengthAdjust="spacingAndGlyphs" >p=0.0286</text>
<text x="466.30" y="655.10" font-size="8" stroke="#231f20" stroke-width="0.15" text-anchor="middle" textLength="12.20" lengthAdjust="spacingAndGlyphs" >Ctrl</text>
<text x="499.90" y="655.10" font-size="8" stroke="#231f20" stroke-width="0.15" text-anchor="middle" textLength="17.30" lengthAdjust="spacingAndGlyphs" >plpC</text>
<text x="423.20" y="583.50" font-size="8.64" text-anchor="middle" textLength="38.70" lengthAdjust="spacingAndGlyphs" font-weight="bold" transform="rotate(-90 423.20 583.50)" stroke="#231f20" stroke-width="0.15">% eGFP<tspan font-size="6.2" dy="-2.8">+</tspan><tspan dy="2.8"> HSC</tspan></text>
</svg></body></html>
